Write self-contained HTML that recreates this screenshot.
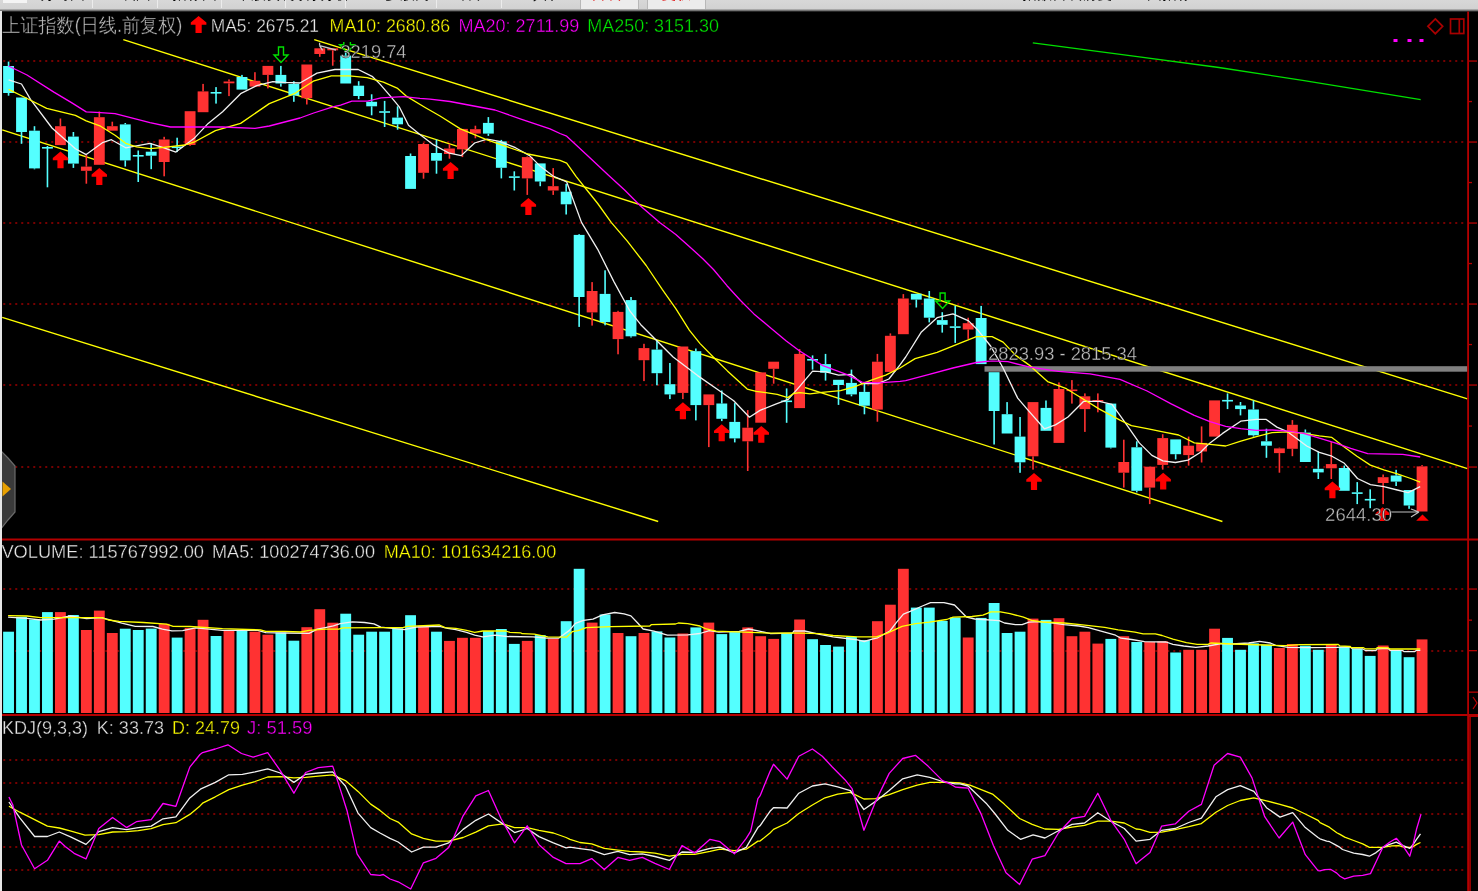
<!DOCTYPE html>
<html><head><meta charset="utf-8"><style>
html,body{margin:0;padding:0;background:#000;}
body{width:1478px;height:891px;overflow:hidden;position:relative;}
#tb{position:absolute;left:0;top:0;width:1478px;height:12px;overflow:hidden;background:linear-gradient(#d8d8d8 0,#d2d2d2 8.5px,#8a8a8a 10.2px,#000 12px);}
.tt{position:absolute;top:-14px;font-family:"Liberation Sans","WenQuanYi Zen Hei","Noto Sans CJK SC",sans-serif;font-size:15px;line-height:16px;color:#000;font-weight:bold;white-space:pre;}
.tx{position:absolute;top:0;width:1px;height:8px;background:#ececec;}
.bt{position:absolute;top:0;width:57px;height:9px;background:#ececec;border-left:1px solid #b8b8b8;border-right:1px solid #b8b8b8;}
#lb{position:absolute;left:0;top:11px;width:2px;height:880px;background:#e6e6e6;}
.t{position:absolute;white-space:pre;font-family:"Liberation Sans",Arial,sans-serif;font-size:18px;line-height:20px;}
.cj{font-family:"Liberation Sans","WenQuanYi Zen Hei","Noto Sans CJK SC",sans-serif;}
svg{position:absolute;left:0;top:0;will-change:transform;}
</style></head><body>
<div id="tb">
<div class="tx" style="left:3px;width:24px;background:#f4f4f4;height:3px;top:0;"></div>
<span class="tt" style="left:40px;">分时图</span>
<span class="tt" style="left:110px;">K线图</span>
<span class="tt" style="left:172px;">指标图</span>
<span class="tt" style="left:236px;">个股资料</span>
<span class="tt" style="left:290px;">财务分析</span>
<span class="tt" style="left:385px;">多股同</span>
<span class="tt" style="left:450px;">画线</span>
<span class="tt" style="left:518px;">工具栏</span>
<div class="tx" style="left:92px;"></div><div class="tx" style="left:157px;"></div><div class="tx" style="left:221px;"></div><div class="tx" style="left:285px;"></div><div class="tx" style="left:345px;"></div><div class="tx" style="left:436px;"></div><div class="tx" style="left:501px;"></div>
<div class="bt" style="left:580px;"><span class="tt" style="left:10px;color:#e00000;">日线</span></div>
<div class="bt" style="left:647px;"><span class="tt" style="left:13px;color:#e00000;">复权</span></div>
<span class="tt" style="left:992px;">上证指数日线前复</span>
<span class="tt" style="left:1132px;">主图指标</span>
</div>
<svg width="1478" height="891" viewBox="0 0 1478 891">
<path d="M3.25,60h2v2h-2zM9.25,60h2v2h-2zM15.25,60h2v2h-2zM21.25,60h2v2h-2zM27.25,60h2v2h-2zM33.25,60h2v2h-2zM39.25,60h2v2h-2zM45.25,60h2v2h-2zM51.25,60h2v2h-2zM57.25,60h2v2h-2zM63.25,60h2v2h-2zM69.25,60h2v2h-2zM75.25,60h2v2h-2zM81.25,60h2v2h-2zM87.25,60h2v2h-2zM93.25,60h2v2h-2zM99.25,60h2v2h-2zM105.25,60h2v2h-2zM111.25,60h2v2h-2zM117.25,60h2v2h-2zM123.25,60h2v2h-2zM129.25,60h2v2h-2zM135.25,60h2v2h-2zM141.25,60h2v2h-2zM147.25,60h2v2h-2zM153.25,60h2v2h-2zM159.25,60h2v2h-2zM165.25,60h2v2h-2zM171.25,60h2v2h-2zM177.25,60h2v2h-2zM183.25,60h2v2h-2zM189.25,60h2v2h-2zM195.25,60h2v2h-2zM201.25,60h2v2h-2zM207.25,60h2v2h-2zM213.25,60h2v2h-2zM219.25,60h2v2h-2zM225.25,60h2v2h-2zM231.25,60h2v2h-2zM237.25,60h2v2h-2zM243.25,60h2v2h-2zM249.25,60h2v2h-2zM255.25,60h2v2h-2zM261.25,60h2v2h-2zM267.25,60h2v2h-2zM273.25,60h2v2h-2zM279.25,60h2v2h-2zM285.25,60h2v2h-2zM291.25,60h2v2h-2zM297.25,60h2v2h-2zM303.25,60h2v2h-2zM309.25,60h2v2h-2zM315.25,60h2v2h-2zM321.25,60h2v2h-2zM327.25,60h2v2h-2zM333.25,60h2v2h-2zM339.25,60h2v2h-2zM345.25,60h2v2h-2zM351.25,60h2v2h-2zM357.25,60h2v2h-2zM363.25,60h2v2h-2zM369.25,60h2v2h-2zM375.25,60h2v2h-2zM381.25,60h2v2h-2zM387.25,60h2v2h-2zM393.25,60h2v2h-2zM399.25,60h2v2h-2zM405.25,60h2v2h-2zM411.25,60h2v2h-2zM417.25,60h2v2h-2zM423.25,60h2v2h-2zM429.25,60h2v2h-2zM435.25,60h2v2h-2zM441.25,60h2v2h-2zM447.25,60h2v2h-2zM453.25,60h2v2h-2zM459.25,60h2v2h-2zM465.25,60h2v2h-2zM471.25,60h2v2h-2zM477.25,60h2v2h-2zM483.25,60h2v2h-2zM489.25,60h2v2h-2zM495.25,60h2v2h-2zM501.25,60h2v2h-2zM507.25,60h2v2h-2zM513.25,60h2v2h-2zM519.25,60h2v2h-2zM525.25,60h2v2h-2zM531.25,60h2v2h-2zM537.25,60h2v2h-2zM543.25,60h2v2h-2zM549.25,60h2v2h-2zM555.25,60h2v2h-2zM561.25,60h2v2h-2zM567.25,60h2v2h-2zM573.25,60h2v2h-2zM579.25,60h2v2h-2zM585.25,60h2v2h-2zM591.25,60h2v2h-2zM597.25,60h2v2h-2zM603.25,60h2v2h-2zM609.25,60h2v2h-2zM615.25,60h2v2h-2zM621.25,60h2v2h-2zM627.25,60h2v2h-2zM633.25,60h2v2h-2zM639.25,60h2v2h-2zM645.25,60h2v2h-2zM651.25,60h2v2h-2zM657.25,60h2v2h-2zM663.25,60h2v2h-2zM669.25,60h2v2h-2zM675.25,60h2v2h-2zM681.25,60h2v2h-2zM687.25,60h2v2h-2zM693.25,60h2v2h-2zM699.25,60h2v2h-2zM705.25,60h2v2h-2zM711.25,60h2v2h-2zM717.25,60h2v2h-2zM723.25,60h2v2h-2zM729.25,60h2v2h-2zM735.25,60h2v2h-2zM741.25,60h2v2h-2zM747.25,60h2v2h-2zM753.25,60h2v2h-2zM759.25,60h2v2h-2zM765.25,60h2v2h-2zM771.25,60h2v2h-2zM777.25,60h2v2h-2zM783.25,60h2v2h-2zM789.25,60h2v2h-2zM795.25,60h2v2h-2zM801.25,60h2v2h-2zM807.25,60h2v2h-2zM813.25,60h2v2h-2zM819.25,60h2v2h-2zM825.25,60h2v2h-2zM831.25,60h2v2h-2zM837.25,60h2v2h-2zM843.25,60h2v2h-2zM849.25,60h2v2h-2zM855.25,60h2v2h-2zM861.25,60h2v2h-2zM867.25,60h2v2h-2zM873.25,60h2v2h-2zM879.25,60h2v2h-2zM885.25,60h2v2h-2zM891.25,60h2v2h-2zM897.25,60h2v2h-2zM903.25,60h2v2h-2zM909.25,60h2v2h-2zM915.25,60h2v2h-2zM921.25,60h2v2h-2zM927.25,60h2v2h-2zM933.25,60h2v2h-2zM939.25,60h2v2h-2zM945.25,60h2v2h-2zM951.25,60h2v2h-2zM957.25,60h2v2h-2zM963.25,60h2v2h-2zM969.25,60h2v2h-2zM975.25,60h2v2h-2zM981.25,60h2v2h-2zM987.25,60h2v2h-2zM993.25,60h2v2h-2zM999.25,60h2v2h-2zM1005.25,60h2v2h-2zM1011.25,60h2v2h-2zM1017.25,60h2v2h-2zM1023.25,60h2v2h-2zM1029.25,60h2v2h-2zM1035.25,60h2v2h-2zM1041.25,60h2v2h-2zM1047.25,60h2v2h-2zM1053.25,60h2v2h-2zM1059.25,60h2v2h-2zM1065.25,60h2v2h-2zM1071.25,60h2v2h-2zM1077.25,60h2v2h-2zM1083.25,60h2v2h-2zM1089.25,60h2v2h-2zM1095.25,60h2v2h-2zM1101.25,60h2v2h-2zM1107.25,60h2v2h-2zM1113.25,60h2v2h-2zM1119.25,60h2v2h-2zM1125.25,60h2v2h-2zM1131.25,60h2v2h-2zM1137.25,60h2v2h-2zM1143.25,60h2v2h-2zM1149.25,60h2v2h-2zM1155.25,60h2v2h-2zM1161.25,60h2v2h-2zM1167.25,60h2v2h-2zM1173.25,60h2v2h-2zM1179.25,60h2v2h-2zM1185.25,60h2v2h-2zM1191.25,60h2v2h-2zM1197.25,60h2v2h-2zM1203.25,60h2v2h-2zM1209.25,60h2v2h-2zM1215.25,60h2v2h-2zM1221.25,60h2v2h-2zM1227.25,60h2v2h-2zM1233.25,60h2v2h-2zM1239.25,60h2v2h-2zM1245.25,60h2v2h-2zM1251.25,60h2v2h-2zM1257.25,60h2v2h-2zM1263.25,60h2v2h-2zM1269.25,60h2v2h-2zM1275.25,60h2v2h-2zM1281.25,60h2v2h-2zM1287.25,60h2v2h-2zM1293.25,60h2v2h-2zM1299.25,60h2v2h-2zM1305.25,60h2v2h-2zM1311.25,60h2v2h-2zM1317.25,60h2v2h-2zM1323.25,60h2v2h-2zM1329.25,60h2v2h-2zM1335.25,60h2v2h-2zM1341.25,60h2v2h-2zM1347.25,60h2v2h-2zM1353.25,60h2v2h-2zM1359.25,60h2v2h-2zM1365.25,60h2v2h-2zM1371.25,60h2v2h-2zM1377.25,60h2v2h-2zM1383.25,60h2v2h-2zM1389.25,60h2v2h-2zM1395.25,60h2v2h-2zM1401.25,60h2v2h-2zM1407.25,60h2v2h-2zM1413.25,60h2v2h-2zM1419.25,60h2v2h-2zM1425.25,60h2v2h-2zM1431.25,60h2v2h-2zM1437.25,60h2v2h-2zM1443.25,60h2v2h-2zM1449.25,60h2v2h-2zM1455.25,60h2v2h-2zM1461.25,60h2v2h-2z" fill="#760000"/>
<path d="M3.25,141h2v2h-2zM9.25,141h2v2h-2zM15.25,141h2v2h-2zM21.25,141h2v2h-2zM27.25,141h2v2h-2zM33.25,141h2v2h-2zM39.25,141h2v2h-2zM45.25,141h2v2h-2zM51.25,141h2v2h-2zM57.25,141h2v2h-2zM63.25,141h2v2h-2zM69.25,141h2v2h-2zM75.25,141h2v2h-2zM81.25,141h2v2h-2zM87.25,141h2v2h-2zM93.25,141h2v2h-2zM99.25,141h2v2h-2zM105.25,141h2v2h-2zM111.25,141h2v2h-2zM117.25,141h2v2h-2zM123.25,141h2v2h-2zM129.25,141h2v2h-2zM135.25,141h2v2h-2zM141.25,141h2v2h-2zM147.25,141h2v2h-2zM153.25,141h2v2h-2zM159.25,141h2v2h-2zM165.25,141h2v2h-2zM171.25,141h2v2h-2zM177.25,141h2v2h-2zM183.25,141h2v2h-2zM189.25,141h2v2h-2zM195.25,141h2v2h-2zM201.25,141h2v2h-2zM207.25,141h2v2h-2zM213.25,141h2v2h-2zM219.25,141h2v2h-2zM225.25,141h2v2h-2zM231.25,141h2v2h-2zM237.25,141h2v2h-2zM243.25,141h2v2h-2zM249.25,141h2v2h-2zM255.25,141h2v2h-2zM261.25,141h2v2h-2zM267.25,141h2v2h-2zM273.25,141h2v2h-2zM279.25,141h2v2h-2zM285.25,141h2v2h-2zM291.25,141h2v2h-2zM297.25,141h2v2h-2zM303.25,141h2v2h-2zM309.25,141h2v2h-2zM315.25,141h2v2h-2zM321.25,141h2v2h-2zM327.25,141h2v2h-2zM333.25,141h2v2h-2zM339.25,141h2v2h-2zM345.25,141h2v2h-2zM351.25,141h2v2h-2zM357.25,141h2v2h-2zM363.25,141h2v2h-2zM369.25,141h2v2h-2zM375.25,141h2v2h-2zM381.25,141h2v2h-2zM387.25,141h2v2h-2zM393.25,141h2v2h-2zM399.25,141h2v2h-2zM405.25,141h2v2h-2zM411.25,141h2v2h-2zM417.25,141h2v2h-2zM423.25,141h2v2h-2zM429.25,141h2v2h-2zM435.25,141h2v2h-2zM441.25,141h2v2h-2zM447.25,141h2v2h-2zM453.25,141h2v2h-2zM459.25,141h2v2h-2zM465.25,141h2v2h-2zM471.25,141h2v2h-2zM477.25,141h2v2h-2zM483.25,141h2v2h-2zM489.25,141h2v2h-2zM495.25,141h2v2h-2zM501.25,141h2v2h-2zM507.25,141h2v2h-2zM513.25,141h2v2h-2zM519.25,141h2v2h-2zM525.25,141h2v2h-2zM531.25,141h2v2h-2zM537.25,141h2v2h-2zM543.25,141h2v2h-2zM549.25,141h2v2h-2zM555.25,141h2v2h-2zM561.25,141h2v2h-2zM567.25,141h2v2h-2zM573.25,141h2v2h-2zM579.25,141h2v2h-2zM585.25,141h2v2h-2zM591.25,141h2v2h-2zM597.25,141h2v2h-2zM603.25,141h2v2h-2zM609.25,141h2v2h-2zM615.25,141h2v2h-2zM621.25,141h2v2h-2zM627.25,141h2v2h-2zM633.25,141h2v2h-2zM639.25,141h2v2h-2zM645.25,141h2v2h-2zM651.25,141h2v2h-2zM657.25,141h2v2h-2zM663.25,141h2v2h-2zM669.25,141h2v2h-2zM675.25,141h2v2h-2zM681.25,141h2v2h-2zM687.25,141h2v2h-2zM693.25,141h2v2h-2zM699.25,141h2v2h-2zM705.25,141h2v2h-2zM711.25,141h2v2h-2zM717.25,141h2v2h-2zM723.25,141h2v2h-2zM729.25,141h2v2h-2zM735.25,141h2v2h-2zM741.25,141h2v2h-2zM747.25,141h2v2h-2zM753.25,141h2v2h-2zM759.25,141h2v2h-2zM765.25,141h2v2h-2zM771.25,141h2v2h-2zM777.25,141h2v2h-2zM783.25,141h2v2h-2zM789.25,141h2v2h-2zM795.25,141h2v2h-2zM801.25,141h2v2h-2zM807.25,141h2v2h-2zM813.25,141h2v2h-2zM819.25,141h2v2h-2zM825.25,141h2v2h-2zM831.25,141h2v2h-2zM837.25,141h2v2h-2zM843.25,141h2v2h-2zM849.25,141h2v2h-2zM855.25,141h2v2h-2zM861.25,141h2v2h-2zM867.25,141h2v2h-2zM873.25,141h2v2h-2zM879.25,141h2v2h-2zM885.25,141h2v2h-2zM891.25,141h2v2h-2zM897.25,141h2v2h-2zM903.25,141h2v2h-2zM909.25,141h2v2h-2zM915.25,141h2v2h-2zM921.25,141h2v2h-2zM927.25,141h2v2h-2zM933.25,141h2v2h-2zM939.25,141h2v2h-2zM945.25,141h2v2h-2zM951.25,141h2v2h-2zM957.25,141h2v2h-2zM963.25,141h2v2h-2zM969.25,141h2v2h-2zM975.25,141h2v2h-2zM981.25,141h2v2h-2zM987.25,141h2v2h-2zM993.25,141h2v2h-2zM999.25,141h2v2h-2zM1005.25,141h2v2h-2zM1011.25,141h2v2h-2zM1017.25,141h2v2h-2zM1023.25,141h2v2h-2zM1029.25,141h2v2h-2zM1035.25,141h2v2h-2zM1041.25,141h2v2h-2zM1047.25,141h2v2h-2zM1053.25,141h2v2h-2zM1059.25,141h2v2h-2zM1065.25,141h2v2h-2zM1071.25,141h2v2h-2zM1077.25,141h2v2h-2zM1083.25,141h2v2h-2zM1089.25,141h2v2h-2zM1095.25,141h2v2h-2zM1101.25,141h2v2h-2zM1107.25,141h2v2h-2zM1113.25,141h2v2h-2zM1119.25,141h2v2h-2zM1125.25,141h2v2h-2zM1131.25,141h2v2h-2zM1137.25,141h2v2h-2zM1143.25,141h2v2h-2zM1149.25,141h2v2h-2zM1155.25,141h2v2h-2zM1161.25,141h2v2h-2zM1167.25,141h2v2h-2zM1173.25,141h2v2h-2zM1179.25,141h2v2h-2zM1185.25,141h2v2h-2zM1191.25,141h2v2h-2zM1197.25,141h2v2h-2zM1203.25,141h2v2h-2zM1209.25,141h2v2h-2zM1215.25,141h2v2h-2zM1221.25,141h2v2h-2zM1227.25,141h2v2h-2zM1233.25,141h2v2h-2zM1239.25,141h2v2h-2zM1245.25,141h2v2h-2zM1251.25,141h2v2h-2zM1257.25,141h2v2h-2zM1263.25,141h2v2h-2zM1269.25,141h2v2h-2zM1275.25,141h2v2h-2zM1281.25,141h2v2h-2zM1287.25,141h2v2h-2zM1293.25,141h2v2h-2zM1299.25,141h2v2h-2zM1305.25,141h2v2h-2zM1311.25,141h2v2h-2zM1317.25,141h2v2h-2zM1323.25,141h2v2h-2zM1329.25,141h2v2h-2zM1335.25,141h2v2h-2zM1341.25,141h2v2h-2zM1347.25,141h2v2h-2zM1353.25,141h2v2h-2zM1359.25,141h2v2h-2zM1365.25,141h2v2h-2zM1371.25,141h2v2h-2zM1377.25,141h2v2h-2zM1383.25,141h2v2h-2zM1389.25,141h2v2h-2zM1395.25,141h2v2h-2zM1401.25,141h2v2h-2zM1407.25,141h2v2h-2zM1413.25,141h2v2h-2zM1419.25,141h2v2h-2zM1425.25,141h2v2h-2zM1431.25,141h2v2h-2zM1437.25,141h2v2h-2zM1443.25,141h2v2h-2zM1449.25,141h2v2h-2zM1455.25,141h2v2h-2zM1461.25,141h2v2h-2z" fill="#760000"/>
<path d="M3.25,222h2v2h-2zM9.25,222h2v2h-2zM15.25,222h2v2h-2zM21.25,222h2v2h-2zM27.25,222h2v2h-2zM33.25,222h2v2h-2zM39.25,222h2v2h-2zM45.25,222h2v2h-2zM51.25,222h2v2h-2zM57.25,222h2v2h-2zM63.25,222h2v2h-2zM69.25,222h2v2h-2zM75.25,222h2v2h-2zM81.25,222h2v2h-2zM87.25,222h2v2h-2zM93.25,222h2v2h-2zM99.25,222h2v2h-2zM105.25,222h2v2h-2zM111.25,222h2v2h-2zM117.25,222h2v2h-2zM123.25,222h2v2h-2zM129.25,222h2v2h-2zM135.25,222h2v2h-2zM141.25,222h2v2h-2zM147.25,222h2v2h-2zM153.25,222h2v2h-2zM159.25,222h2v2h-2zM165.25,222h2v2h-2zM171.25,222h2v2h-2zM177.25,222h2v2h-2zM183.25,222h2v2h-2zM189.25,222h2v2h-2zM195.25,222h2v2h-2zM201.25,222h2v2h-2zM207.25,222h2v2h-2zM213.25,222h2v2h-2zM219.25,222h2v2h-2zM225.25,222h2v2h-2zM231.25,222h2v2h-2zM237.25,222h2v2h-2zM243.25,222h2v2h-2zM249.25,222h2v2h-2zM255.25,222h2v2h-2zM261.25,222h2v2h-2zM267.25,222h2v2h-2zM273.25,222h2v2h-2zM279.25,222h2v2h-2zM285.25,222h2v2h-2zM291.25,222h2v2h-2zM297.25,222h2v2h-2zM303.25,222h2v2h-2zM309.25,222h2v2h-2zM315.25,222h2v2h-2zM321.25,222h2v2h-2zM327.25,222h2v2h-2zM333.25,222h2v2h-2zM339.25,222h2v2h-2zM345.25,222h2v2h-2zM351.25,222h2v2h-2zM357.25,222h2v2h-2zM363.25,222h2v2h-2zM369.25,222h2v2h-2zM375.25,222h2v2h-2zM381.25,222h2v2h-2zM387.25,222h2v2h-2zM393.25,222h2v2h-2zM399.25,222h2v2h-2zM405.25,222h2v2h-2zM411.25,222h2v2h-2zM417.25,222h2v2h-2zM423.25,222h2v2h-2zM429.25,222h2v2h-2zM435.25,222h2v2h-2zM441.25,222h2v2h-2zM447.25,222h2v2h-2zM453.25,222h2v2h-2zM459.25,222h2v2h-2zM465.25,222h2v2h-2zM471.25,222h2v2h-2zM477.25,222h2v2h-2zM483.25,222h2v2h-2zM489.25,222h2v2h-2zM495.25,222h2v2h-2zM501.25,222h2v2h-2zM507.25,222h2v2h-2zM513.25,222h2v2h-2zM519.25,222h2v2h-2zM525.25,222h2v2h-2zM531.25,222h2v2h-2zM537.25,222h2v2h-2zM543.25,222h2v2h-2zM549.25,222h2v2h-2zM555.25,222h2v2h-2zM561.25,222h2v2h-2zM567.25,222h2v2h-2zM573.25,222h2v2h-2zM579.25,222h2v2h-2zM585.25,222h2v2h-2zM591.25,222h2v2h-2zM597.25,222h2v2h-2zM603.25,222h2v2h-2zM609.25,222h2v2h-2zM615.25,222h2v2h-2zM621.25,222h2v2h-2zM627.25,222h2v2h-2zM633.25,222h2v2h-2zM639.25,222h2v2h-2zM645.25,222h2v2h-2zM651.25,222h2v2h-2zM657.25,222h2v2h-2zM663.25,222h2v2h-2zM669.25,222h2v2h-2zM675.25,222h2v2h-2zM681.25,222h2v2h-2zM687.25,222h2v2h-2zM693.25,222h2v2h-2zM699.25,222h2v2h-2zM705.25,222h2v2h-2zM711.25,222h2v2h-2zM717.25,222h2v2h-2zM723.25,222h2v2h-2zM729.25,222h2v2h-2zM735.25,222h2v2h-2zM741.25,222h2v2h-2zM747.25,222h2v2h-2zM753.25,222h2v2h-2zM759.25,222h2v2h-2zM765.25,222h2v2h-2zM771.25,222h2v2h-2zM777.25,222h2v2h-2zM783.25,222h2v2h-2zM789.25,222h2v2h-2zM795.25,222h2v2h-2zM801.25,222h2v2h-2zM807.25,222h2v2h-2zM813.25,222h2v2h-2zM819.25,222h2v2h-2zM825.25,222h2v2h-2zM831.25,222h2v2h-2zM837.25,222h2v2h-2zM843.25,222h2v2h-2zM849.25,222h2v2h-2zM855.25,222h2v2h-2zM861.25,222h2v2h-2zM867.25,222h2v2h-2zM873.25,222h2v2h-2zM879.25,222h2v2h-2zM885.25,222h2v2h-2zM891.25,222h2v2h-2zM897.25,222h2v2h-2zM903.25,222h2v2h-2zM909.25,222h2v2h-2zM915.25,222h2v2h-2zM921.25,222h2v2h-2zM927.25,222h2v2h-2zM933.25,222h2v2h-2zM939.25,222h2v2h-2zM945.25,222h2v2h-2zM951.25,222h2v2h-2zM957.25,222h2v2h-2zM963.25,222h2v2h-2zM969.25,222h2v2h-2zM975.25,222h2v2h-2zM981.25,222h2v2h-2zM987.25,222h2v2h-2zM993.25,222h2v2h-2zM999.25,222h2v2h-2zM1005.25,222h2v2h-2zM1011.25,222h2v2h-2zM1017.25,222h2v2h-2zM1023.25,222h2v2h-2zM1029.25,222h2v2h-2zM1035.25,222h2v2h-2zM1041.25,222h2v2h-2zM1047.25,222h2v2h-2zM1053.25,222h2v2h-2zM1059.25,222h2v2h-2zM1065.25,222h2v2h-2zM1071.25,222h2v2h-2zM1077.25,222h2v2h-2zM1083.25,222h2v2h-2zM1089.25,222h2v2h-2zM1095.25,222h2v2h-2zM1101.25,222h2v2h-2zM1107.25,222h2v2h-2zM1113.25,222h2v2h-2zM1119.25,222h2v2h-2zM1125.25,222h2v2h-2zM1131.25,222h2v2h-2zM1137.25,222h2v2h-2zM1143.25,222h2v2h-2zM1149.25,222h2v2h-2zM1155.25,222h2v2h-2zM1161.25,222h2v2h-2zM1167.25,222h2v2h-2zM1173.25,222h2v2h-2zM1179.25,222h2v2h-2zM1185.25,222h2v2h-2zM1191.25,222h2v2h-2zM1197.25,222h2v2h-2zM1203.25,222h2v2h-2zM1209.25,222h2v2h-2zM1215.25,222h2v2h-2zM1221.25,222h2v2h-2zM1227.25,222h2v2h-2zM1233.25,222h2v2h-2zM1239.25,222h2v2h-2zM1245.25,222h2v2h-2zM1251.25,222h2v2h-2zM1257.25,222h2v2h-2zM1263.25,222h2v2h-2zM1269.25,222h2v2h-2zM1275.25,222h2v2h-2zM1281.25,222h2v2h-2zM1287.25,222h2v2h-2zM1293.25,222h2v2h-2zM1299.25,222h2v2h-2zM1305.25,222h2v2h-2zM1311.25,222h2v2h-2zM1317.25,222h2v2h-2zM1323.25,222h2v2h-2zM1329.25,222h2v2h-2zM1335.25,222h2v2h-2zM1341.25,222h2v2h-2zM1347.25,222h2v2h-2zM1353.25,222h2v2h-2zM1359.25,222h2v2h-2zM1365.25,222h2v2h-2zM1371.25,222h2v2h-2zM1377.25,222h2v2h-2zM1383.25,222h2v2h-2zM1389.25,222h2v2h-2zM1395.25,222h2v2h-2zM1401.25,222h2v2h-2zM1407.25,222h2v2h-2zM1413.25,222h2v2h-2zM1419.25,222h2v2h-2zM1425.25,222h2v2h-2zM1431.25,222h2v2h-2zM1437.25,222h2v2h-2zM1443.25,222h2v2h-2zM1449.25,222h2v2h-2zM1455.25,222h2v2h-2zM1461.25,222h2v2h-2z" fill="#760000"/>
<path d="M3.25,303h2v2h-2zM9.25,303h2v2h-2zM15.25,303h2v2h-2zM21.25,303h2v2h-2zM27.25,303h2v2h-2zM33.25,303h2v2h-2zM39.25,303h2v2h-2zM45.25,303h2v2h-2zM51.25,303h2v2h-2zM57.25,303h2v2h-2zM63.25,303h2v2h-2zM69.25,303h2v2h-2zM75.25,303h2v2h-2zM81.25,303h2v2h-2zM87.25,303h2v2h-2zM93.25,303h2v2h-2zM99.25,303h2v2h-2zM105.25,303h2v2h-2zM111.25,303h2v2h-2zM117.25,303h2v2h-2zM123.25,303h2v2h-2zM129.25,303h2v2h-2zM135.25,303h2v2h-2zM141.25,303h2v2h-2zM147.25,303h2v2h-2zM153.25,303h2v2h-2zM159.25,303h2v2h-2zM165.25,303h2v2h-2zM171.25,303h2v2h-2zM177.25,303h2v2h-2zM183.25,303h2v2h-2zM189.25,303h2v2h-2zM195.25,303h2v2h-2zM201.25,303h2v2h-2zM207.25,303h2v2h-2zM213.25,303h2v2h-2zM219.25,303h2v2h-2zM225.25,303h2v2h-2zM231.25,303h2v2h-2zM237.25,303h2v2h-2zM243.25,303h2v2h-2zM249.25,303h2v2h-2zM255.25,303h2v2h-2zM261.25,303h2v2h-2zM267.25,303h2v2h-2zM273.25,303h2v2h-2zM279.25,303h2v2h-2zM285.25,303h2v2h-2zM291.25,303h2v2h-2zM297.25,303h2v2h-2zM303.25,303h2v2h-2zM309.25,303h2v2h-2zM315.25,303h2v2h-2zM321.25,303h2v2h-2zM327.25,303h2v2h-2zM333.25,303h2v2h-2zM339.25,303h2v2h-2zM345.25,303h2v2h-2zM351.25,303h2v2h-2zM357.25,303h2v2h-2zM363.25,303h2v2h-2zM369.25,303h2v2h-2zM375.25,303h2v2h-2zM381.25,303h2v2h-2zM387.25,303h2v2h-2zM393.25,303h2v2h-2zM399.25,303h2v2h-2zM405.25,303h2v2h-2zM411.25,303h2v2h-2zM417.25,303h2v2h-2zM423.25,303h2v2h-2zM429.25,303h2v2h-2zM435.25,303h2v2h-2zM441.25,303h2v2h-2zM447.25,303h2v2h-2zM453.25,303h2v2h-2zM459.25,303h2v2h-2zM465.25,303h2v2h-2zM471.25,303h2v2h-2zM477.25,303h2v2h-2zM483.25,303h2v2h-2zM489.25,303h2v2h-2zM495.25,303h2v2h-2zM501.25,303h2v2h-2zM507.25,303h2v2h-2zM513.25,303h2v2h-2zM519.25,303h2v2h-2zM525.25,303h2v2h-2zM531.25,303h2v2h-2zM537.25,303h2v2h-2zM543.25,303h2v2h-2zM549.25,303h2v2h-2zM555.25,303h2v2h-2zM561.25,303h2v2h-2zM567.25,303h2v2h-2zM573.25,303h2v2h-2zM579.25,303h2v2h-2zM585.25,303h2v2h-2zM591.25,303h2v2h-2zM597.25,303h2v2h-2zM603.25,303h2v2h-2zM609.25,303h2v2h-2zM615.25,303h2v2h-2zM621.25,303h2v2h-2zM627.25,303h2v2h-2zM633.25,303h2v2h-2zM639.25,303h2v2h-2zM645.25,303h2v2h-2zM651.25,303h2v2h-2zM657.25,303h2v2h-2zM663.25,303h2v2h-2zM669.25,303h2v2h-2zM675.25,303h2v2h-2zM681.25,303h2v2h-2zM687.25,303h2v2h-2zM693.25,303h2v2h-2zM699.25,303h2v2h-2zM705.25,303h2v2h-2zM711.25,303h2v2h-2zM717.25,303h2v2h-2zM723.25,303h2v2h-2zM729.25,303h2v2h-2zM735.25,303h2v2h-2zM741.25,303h2v2h-2zM747.25,303h2v2h-2zM753.25,303h2v2h-2zM759.25,303h2v2h-2zM765.25,303h2v2h-2zM771.25,303h2v2h-2zM777.25,303h2v2h-2zM783.25,303h2v2h-2zM789.25,303h2v2h-2zM795.25,303h2v2h-2zM801.25,303h2v2h-2zM807.25,303h2v2h-2zM813.25,303h2v2h-2zM819.25,303h2v2h-2zM825.25,303h2v2h-2zM831.25,303h2v2h-2zM837.25,303h2v2h-2zM843.25,303h2v2h-2zM849.25,303h2v2h-2zM855.25,303h2v2h-2zM861.25,303h2v2h-2zM867.25,303h2v2h-2zM873.25,303h2v2h-2zM879.25,303h2v2h-2zM885.25,303h2v2h-2zM891.25,303h2v2h-2zM897.25,303h2v2h-2zM903.25,303h2v2h-2zM909.25,303h2v2h-2zM915.25,303h2v2h-2zM921.25,303h2v2h-2zM927.25,303h2v2h-2zM933.25,303h2v2h-2zM939.25,303h2v2h-2zM945.25,303h2v2h-2zM951.25,303h2v2h-2zM957.25,303h2v2h-2zM963.25,303h2v2h-2zM969.25,303h2v2h-2zM975.25,303h2v2h-2zM981.25,303h2v2h-2zM987.25,303h2v2h-2zM993.25,303h2v2h-2zM999.25,303h2v2h-2zM1005.25,303h2v2h-2zM1011.25,303h2v2h-2zM1017.25,303h2v2h-2zM1023.25,303h2v2h-2zM1029.25,303h2v2h-2zM1035.25,303h2v2h-2zM1041.25,303h2v2h-2zM1047.25,303h2v2h-2zM1053.25,303h2v2h-2zM1059.25,303h2v2h-2zM1065.25,303h2v2h-2zM1071.25,303h2v2h-2zM1077.25,303h2v2h-2zM1083.25,303h2v2h-2zM1089.25,303h2v2h-2zM1095.25,303h2v2h-2zM1101.25,303h2v2h-2zM1107.25,303h2v2h-2zM1113.25,303h2v2h-2zM1119.25,303h2v2h-2zM1125.25,303h2v2h-2zM1131.25,303h2v2h-2zM1137.25,303h2v2h-2zM1143.25,303h2v2h-2zM1149.25,303h2v2h-2zM1155.25,303h2v2h-2zM1161.25,303h2v2h-2zM1167.25,303h2v2h-2zM1173.25,303h2v2h-2zM1179.25,303h2v2h-2zM1185.25,303h2v2h-2zM1191.25,303h2v2h-2zM1197.25,303h2v2h-2zM1203.25,303h2v2h-2zM1209.25,303h2v2h-2zM1215.25,303h2v2h-2zM1221.25,303h2v2h-2zM1227.25,303h2v2h-2zM1233.25,303h2v2h-2zM1239.25,303h2v2h-2zM1245.25,303h2v2h-2zM1251.25,303h2v2h-2zM1257.25,303h2v2h-2zM1263.25,303h2v2h-2zM1269.25,303h2v2h-2zM1275.25,303h2v2h-2zM1281.25,303h2v2h-2zM1287.25,303h2v2h-2zM1293.25,303h2v2h-2zM1299.25,303h2v2h-2zM1305.25,303h2v2h-2zM1311.25,303h2v2h-2zM1317.25,303h2v2h-2zM1323.25,303h2v2h-2zM1329.25,303h2v2h-2zM1335.25,303h2v2h-2zM1341.25,303h2v2h-2zM1347.25,303h2v2h-2zM1353.25,303h2v2h-2zM1359.25,303h2v2h-2zM1365.25,303h2v2h-2zM1371.25,303h2v2h-2zM1377.25,303h2v2h-2zM1383.25,303h2v2h-2zM1389.25,303h2v2h-2zM1395.25,303h2v2h-2zM1401.25,303h2v2h-2zM1407.25,303h2v2h-2zM1413.25,303h2v2h-2zM1419.25,303h2v2h-2zM1425.25,303h2v2h-2zM1431.25,303h2v2h-2zM1437.25,303h2v2h-2zM1443.25,303h2v2h-2zM1449.25,303h2v2h-2zM1455.25,303h2v2h-2zM1461.25,303h2v2h-2z" fill="#760000"/>
<path d="M3.25,384h2v2h-2zM9.25,384h2v2h-2zM15.25,384h2v2h-2zM21.25,384h2v2h-2zM27.25,384h2v2h-2zM33.25,384h2v2h-2zM39.25,384h2v2h-2zM45.25,384h2v2h-2zM51.25,384h2v2h-2zM57.25,384h2v2h-2zM63.25,384h2v2h-2zM69.25,384h2v2h-2zM75.25,384h2v2h-2zM81.25,384h2v2h-2zM87.25,384h2v2h-2zM93.25,384h2v2h-2zM99.25,384h2v2h-2zM105.25,384h2v2h-2zM111.25,384h2v2h-2zM117.25,384h2v2h-2zM123.25,384h2v2h-2zM129.25,384h2v2h-2zM135.25,384h2v2h-2zM141.25,384h2v2h-2zM147.25,384h2v2h-2zM153.25,384h2v2h-2zM159.25,384h2v2h-2zM165.25,384h2v2h-2zM171.25,384h2v2h-2zM177.25,384h2v2h-2zM183.25,384h2v2h-2zM189.25,384h2v2h-2zM195.25,384h2v2h-2zM201.25,384h2v2h-2zM207.25,384h2v2h-2zM213.25,384h2v2h-2zM219.25,384h2v2h-2zM225.25,384h2v2h-2zM231.25,384h2v2h-2zM237.25,384h2v2h-2zM243.25,384h2v2h-2zM249.25,384h2v2h-2zM255.25,384h2v2h-2zM261.25,384h2v2h-2zM267.25,384h2v2h-2zM273.25,384h2v2h-2zM279.25,384h2v2h-2zM285.25,384h2v2h-2zM291.25,384h2v2h-2zM297.25,384h2v2h-2zM303.25,384h2v2h-2zM309.25,384h2v2h-2zM315.25,384h2v2h-2zM321.25,384h2v2h-2zM327.25,384h2v2h-2zM333.25,384h2v2h-2zM339.25,384h2v2h-2zM345.25,384h2v2h-2zM351.25,384h2v2h-2zM357.25,384h2v2h-2zM363.25,384h2v2h-2zM369.25,384h2v2h-2zM375.25,384h2v2h-2zM381.25,384h2v2h-2zM387.25,384h2v2h-2zM393.25,384h2v2h-2zM399.25,384h2v2h-2zM405.25,384h2v2h-2zM411.25,384h2v2h-2zM417.25,384h2v2h-2zM423.25,384h2v2h-2zM429.25,384h2v2h-2zM435.25,384h2v2h-2zM441.25,384h2v2h-2zM447.25,384h2v2h-2zM453.25,384h2v2h-2zM459.25,384h2v2h-2zM465.25,384h2v2h-2zM471.25,384h2v2h-2zM477.25,384h2v2h-2zM483.25,384h2v2h-2zM489.25,384h2v2h-2zM495.25,384h2v2h-2zM501.25,384h2v2h-2zM507.25,384h2v2h-2zM513.25,384h2v2h-2zM519.25,384h2v2h-2zM525.25,384h2v2h-2zM531.25,384h2v2h-2zM537.25,384h2v2h-2zM543.25,384h2v2h-2zM549.25,384h2v2h-2zM555.25,384h2v2h-2zM561.25,384h2v2h-2zM567.25,384h2v2h-2zM573.25,384h2v2h-2zM579.25,384h2v2h-2zM585.25,384h2v2h-2zM591.25,384h2v2h-2zM597.25,384h2v2h-2zM603.25,384h2v2h-2zM609.25,384h2v2h-2zM615.25,384h2v2h-2zM621.25,384h2v2h-2zM627.25,384h2v2h-2zM633.25,384h2v2h-2zM639.25,384h2v2h-2zM645.25,384h2v2h-2zM651.25,384h2v2h-2zM657.25,384h2v2h-2zM663.25,384h2v2h-2zM669.25,384h2v2h-2zM675.25,384h2v2h-2zM681.25,384h2v2h-2zM687.25,384h2v2h-2zM693.25,384h2v2h-2zM699.25,384h2v2h-2zM705.25,384h2v2h-2zM711.25,384h2v2h-2zM717.25,384h2v2h-2zM723.25,384h2v2h-2zM729.25,384h2v2h-2zM735.25,384h2v2h-2zM741.25,384h2v2h-2zM747.25,384h2v2h-2zM753.25,384h2v2h-2zM759.25,384h2v2h-2zM765.25,384h2v2h-2zM771.25,384h2v2h-2zM777.25,384h2v2h-2zM783.25,384h2v2h-2zM789.25,384h2v2h-2zM795.25,384h2v2h-2zM801.25,384h2v2h-2zM807.25,384h2v2h-2zM813.25,384h2v2h-2zM819.25,384h2v2h-2zM825.25,384h2v2h-2zM831.25,384h2v2h-2zM837.25,384h2v2h-2zM843.25,384h2v2h-2zM849.25,384h2v2h-2zM855.25,384h2v2h-2zM861.25,384h2v2h-2zM867.25,384h2v2h-2zM873.25,384h2v2h-2zM879.25,384h2v2h-2zM885.25,384h2v2h-2zM891.25,384h2v2h-2zM897.25,384h2v2h-2zM903.25,384h2v2h-2zM909.25,384h2v2h-2zM915.25,384h2v2h-2zM921.25,384h2v2h-2zM927.25,384h2v2h-2zM933.25,384h2v2h-2zM939.25,384h2v2h-2zM945.25,384h2v2h-2zM951.25,384h2v2h-2zM957.25,384h2v2h-2zM963.25,384h2v2h-2zM969.25,384h2v2h-2zM975.25,384h2v2h-2zM981.25,384h2v2h-2zM987.25,384h2v2h-2zM993.25,384h2v2h-2zM999.25,384h2v2h-2zM1005.25,384h2v2h-2zM1011.25,384h2v2h-2zM1017.25,384h2v2h-2zM1023.25,384h2v2h-2zM1029.25,384h2v2h-2zM1035.25,384h2v2h-2zM1041.25,384h2v2h-2zM1047.25,384h2v2h-2zM1053.25,384h2v2h-2zM1059.25,384h2v2h-2zM1065.25,384h2v2h-2zM1071.25,384h2v2h-2zM1077.25,384h2v2h-2zM1083.25,384h2v2h-2zM1089.25,384h2v2h-2zM1095.25,384h2v2h-2zM1101.25,384h2v2h-2zM1107.25,384h2v2h-2zM1113.25,384h2v2h-2zM1119.25,384h2v2h-2zM1125.25,384h2v2h-2zM1131.25,384h2v2h-2zM1137.25,384h2v2h-2zM1143.25,384h2v2h-2zM1149.25,384h2v2h-2zM1155.25,384h2v2h-2zM1161.25,384h2v2h-2zM1167.25,384h2v2h-2zM1173.25,384h2v2h-2zM1179.25,384h2v2h-2zM1185.25,384h2v2h-2zM1191.25,384h2v2h-2zM1197.25,384h2v2h-2zM1203.25,384h2v2h-2zM1209.25,384h2v2h-2zM1215.25,384h2v2h-2zM1221.25,384h2v2h-2zM1227.25,384h2v2h-2zM1233.25,384h2v2h-2zM1239.25,384h2v2h-2zM1245.25,384h2v2h-2zM1251.25,384h2v2h-2zM1257.25,384h2v2h-2zM1263.25,384h2v2h-2zM1269.25,384h2v2h-2zM1275.25,384h2v2h-2zM1281.25,384h2v2h-2zM1287.25,384h2v2h-2zM1293.25,384h2v2h-2zM1299.25,384h2v2h-2zM1305.25,384h2v2h-2zM1311.25,384h2v2h-2zM1317.25,384h2v2h-2zM1323.25,384h2v2h-2zM1329.25,384h2v2h-2zM1335.25,384h2v2h-2zM1341.25,384h2v2h-2zM1347.25,384h2v2h-2zM1353.25,384h2v2h-2zM1359.25,384h2v2h-2zM1365.25,384h2v2h-2zM1371.25,384h2v2h-2zM1377.25,384h2v2h-2zM1383.25,384h2v2h-2zM1389.25,384h2v2h-2zM1395.25,384h2v2h-2zM1401.25,384h2v2h-2zM1407.25,384h2v2h-2zM1413.25,384h2v2h-2zM1419.25,384h2v2h-2zM1425.25,384h2v2h-2zM1431.25,384h2v2h-2zM1437.25,384h2v2h-2zM1443.25,384h2v2h-2zM1449.25,384h2v2h-2zM1455.25,384h2v2h-2zM1461.25,384h2v2h-2z" fill="#760000"/>
<path d="M3.25,466h2v2h-2zM9.25,466h2v2h-2zM15.25,466h2v2h-2zM21.25,466h2v2h-2zM27.25,466h2v2h-2zM33.25,466h2v2h-2zM39.25,466h2v2h-2zM45.25,466h2v2h-2zM51.25,466h2v2h-2zM57.25,466h2v2h-2zM63.25,466h2v2h-2zM69.25,466h2v2h-2zM75.25,466h2v2h-2zM81.25,466h2v2h-2zM87.25,466h2v2h-2zM93.25,466h2v2h-2zM99.25,466h2v2h-2zM105.25,466h2v2h-2zM111.25,466h2v2h-2zM117.25,466h2v2h-2zM123.25,466h2v2h-2zM129.25,466h2v2h-2zM135.25,466h2v2h-2zM141.25,466h2v2h-2zM147.25,466h2v2h-2zM153.25,466h2v2h-2zM159.25,466h2v2h-2zM165.25,466h2v2h-2zM171.25,466h2v2h-2zM177.25,466h2v2h-2zM183.25,466h2v2h-2zM189.25,466h2v2h-2zM195.25,466h2v2h-2zM201.25,466h2v2h-2zM207.25,466h2v2h-2zM213.25,466h2v2h-2zM219.25,466h2v2h-2zM225.25,466h2v2h-2zM231.25,466h2v2h-2zM237.25,466h2v2h-2zM243.25,466h2v2h-2zM249.25,466h2v2h-2zM255.25,466h2v2h-2zM261.25,466h2v2h-2zM267.25,466h2v2h-2zM273.25,466h2v2h-2zM279.25,466h2v2h-2zM285.25,466h2v2h-2zM291.25,466h2v2h-2zM297.25,466h2v2h-2zM303.25,466h2v2h-2zM309.25,466h2v2h-2zM315.25,466h2v2h-2zM321.25,466h2v2h-2zM327.25,466h2v2h-2zM333.25,466h2v2h-2zM339.25,466h2v2h-2zM345.25,466h2v2h-2zM351.25,466h2v2h-2zM357.25,466h2v2h-2zM363.25,466h2v2h-2zM369.25,466h2v2h-2zM375.25,466h2v2h-2zM381.25,466h2v2h-2zM387.25,466h2v2h-2zM393.25,466h2v2h-2zM399.25,466h2v2h-2zM405.25,466h2v2h-2zM411.25,466h2v2h-2zM417.25,466h2v2h-2zM423.25,466h2v2h-2zM429.25,466h2v2h-2zM435.25,466h2v2h-2zM441.25,466h2v2h-2zM447.25,466h2v2h-2zM453.25,466h2v2h-2zM459.25,466h2v2h-2zM465.25,466h2v2h-2zM471.25,466h2v2h-2zM477.25,466h2v2h-2zM483.25,466h2v2h-2zM489.25,466h2v2h-2zM495.25,466h2v2h-2zM501.25,466h2v2h-2zM507.25,466h2v2h-2zM513.25,466h2v2h-2zM519.25,466h2v2h-2zM525.25,466h2v2h-2zM531.25,466h2v2h-2zM537.25,466h2v2h-2zM543.25,466h2v2h-2zM549.25,466h2v2h-2zM555.25,466h2v2h-2zM561.25,466h2v2h-2zM567.25,466h2v2h-2zM573.25,466h2v2h-2zM579.25,466h2v2h-2zM585.25,466h2v2h-2zM591.25,466h2v2h-2zM597.25,466h2v2h-2zM603.25,466h2v2h-2zM609.25,466h2v2h-2zM615.25,466h2v2h-2zM621.25,466h2v2h-2zM627.25,466h2v2h-2zM633.25,466h2v2h-2zM639.25,466h2v2h-2zM645.25,466h2v2h-2zM651.25,466h2v2h-2zM657.25,466h2v2h-2zM663.25,466h2v2h-2zM669.25,466h2v2h-2zM675.25,466h2v2h-2zM681.25,466h2v2h-2zM687.25,466h2v2h-2zM693.25,466h2v2h-2zM699.25,466h2v2h-2zM705.25,466h2v2h-2zM711.25,466h2v2h-2zM717.25,466h2v2h-2zM723.25,466h2v2h-2zM729.25,466h2v2h-2zM735.25,466h2v2h-2zM741.25,466h2v2h-2zM747.25,466h2v2h-2zM753.25,466h2v2h-2zM759.25,466h2v2h-2zM765.25,466h2v2h-2zM771.25,466h2v2h-2zM777.25,466h2v2h-2zM783.25,466h2v2h-2zM789.25,466h2v2h-2zM795.25,466h2v2h-2zM801.25,466h2v2h-2zM807.25,466h2v2h-2zM813.25,466h2v2h-2zM819.25,466h2v2h-2zM825.25,466h2v2h-2zM831.25,466h2v2h-2zM837.25,466h2v2h-2zM843.25,466h2v2h-2zM849.25,466h2v2h-2zM855.25,466h2v2h-2zM861.25,466h2v2h-2zM867.25,466h2v2h-2zM873.25,466h2v2h-2zM879.25,466h2v2h-2zM885.25,466h2v2h-2zM891.25,466h2v2h-2zM897.25,466h2v2h-2zM903.25,466h2v2h-2zM909.25,466h2v2h-2zM915.25,466h2v2h-2zM921.25,466h2v2h-2zM927.25,466h2v2h-2zM933.25,466h2v2h-2zM939.25,466h2v2h-2zM945.25,466h2v2h-2zM951.25,466h2v2h-2zM957.25,466h2v2h-2zM963.25,466h2v2h-2zM969.25,466h2v2h-2zM975.25,466h2v2h-2zM981.25,466h2v2h-2zM987.25,466h2v2h-2zM993.25,466h2v2h-2zM999.25,466h2v2h-2zM1005.25,466h2v2h-2zM1011.25,466h2v2h-2zM1017.25,466h2v2h-2zM1023.25,466h2v2h-2zM1029.25,466h2v2h-2zM1035.25,466h2v2h-2zM1041.25,466h2v2h-2zM1047.25,466h2v2h-2zM1053.25,466h2v2h-2zM1059.25,466h2v2h-2zM1065.25,466h2v2h-2zM1071.25,466h2v2h-2zM1077.25,466h2v2h-2zM1083.25,466h2v2h-2zM1089.25,466h2v2h-2zM1095.25,466h2v2h-2zM1101.25,466h2v2h-2zM1107.25,466h2v2h-2zM1113.25,466h2v2h-2zM1119.25,466h2v2h-2zM1125.25,466h2v2h-2zM1131.25,466h2v2h-2zM1137.25,466h2v2h-2zM1143.25,466h2v2h-2zM1149.25,466h2v2h-2zM1155.25,466h2v2h-2zM1161.25,466h2v2h-2zM1167.25,466h2v2h-2zM1173.25,466h2v2h-2zM1179.25,466h2v2h-2zM1185.25,466h2v2h-2zM1191.25,466h2v2h-2zM1197.25,466h2v2h-2zM1203.25,466h2v2h-2zM1209.25,466h2v2h-2zM1215.25,466h2v2h-2zM1221.25,466h2v2h-2zM1227.25,466h2v2h-2zM1233.25,466h2v2h-2zM1239.25,466h2v2h-2zM1245.25,466h2v2h-2zM1251.25,466h2v2h-2zM1257.25,466h2v2h-2zM1263.25,466h2v2h-2zM1269.25,466h2v2h-2zM1275.25,466h2v2h-2zM1281.25,466h2v2h-2zM1287.25,466h2v2h-2zM1293.25,466h2v2h-2zM1299.25,466h2v2h-2zM1305.25,466h2v2h-2zM1311.25,466h2v2h-2zM1317.25,466h2v2h-2zM1323.25,466h2v2h-2zM1329.25,466h2v2h-2zM1335.25,466h2v2h-2zM1341.25,466h2v2h-2zM1347.25,466h2v2h-2zM1353.25,466h2v2h-2zM1359.25,466h2v2h-2zM1365.25,466h2v2h-2zM1371.25,466h2v2h-2zM1377.25,466h2v2h-2zM1383.25,466h2v2h-2zM1389.25,466h2v2h-2zM1395.25,466h2v2h-2zM1401.25,466h2v2h-2zM1407.25,466h2v2h-2zM1413.25,466h2v2h-2zM1419.25,466h2v2h-2zM1425.25,466h2v2h-2zM1431.25,466h2v2h-2zM1437.25,466h2v2h-2zM1443.25,466h2v2h-2zM1449.25,466h2v2h-2zM1455.25,466h2v2h-2zM1461.25,466h2v2h-2z" fill="#760000"/>
<path d="M3.25,588h2v2h-2zM9.25,588h2v2h-2zM15.25,588h2v2h-2zM21.25,588h2v2h-2zM27.25,588h2v2h-2zM33.25,588h2v2h-2zM39.25,588h2v2h-2zM45.25,588h2v2h-2zM51.25,588h2v2h-2zM57.25,588h2v2h-2zM63.25,588h2v2h-2zM69.25,588h2v2h-2zM75.25,588h2v2h-2zM81.25,588h2v2h-2zM87.25,588h2v2h-2zM93.25,588h2v2h-2zM99.25,588h2v2h-2zM105.25,588h2v2h-2zM111.25,588h2v2h-2zM117.25,588h2v2h-2zM123.25,588h2v2h-2zM129.25,588h2v2h-2zM135.25,588h2v2h-2zM141.25,588h2v2h-2zM147.25,588h2v2h-2zM153.25,588h2v2h-2zM159.25,588h2v2h-2zM165.25,588h2v2h-2zM171.25,588h2v2h-2zM177.25,588h2v2h-2zM183.25,588h2v2h-2zM189.25,588h2v2h-2zM195.25,588h2v2h-2zM201.25,588h2v2h-2zM207.25,588h2v2h-2zM213.25,588h2v2h-2zM219.25,588h2v2h-2zM225.25,588h2v2h-2zM231.25,588h2v2h-2zM237.25,588h2v2h-2zM243.25,588h2v2h-2zM249.25,588h2v2h-2zM255.25,588h2v2h-2zM261.25,588h2v2h-2zM267.25,588h2v2h-2zM273.25,588h2v2h-2zM279.25,588h2v2h-2zM285.25,588h2v2h-2zM291.25,588h2v2h-2zM297.25,588h2v2h-2zM303.25,588h2v2h-2zM309.25,588h2v2h-2zM315.25,588h2v2h-2zM321.25,588h2v2h-2zM327.25,588h2v2h-2zM333.25,588h2v2h-2zM339.25,588h2v2h-2zM345.25,588h2v2h-2zM351.25,588h2v2h-2zM357.25,588h2v2h-2zM363.25,588h2v2h-2zM369.25,588h2v2h-2zM375.25,588h2v2h-2zM381.25,588h2v2h-2zM387.25,588h2v2h-2zM393.25,588h2v2h-2zM399.25,588h2v2h-2zM405.25,588h2v2h-2zM411.25,588h2v2h-2zM417.25,588h2v2h-2zM423.25,588h2v2h-2zM429.25,588h2v2h-2zM435.25,588h2v2h-2zM441.25,588h2v2h-2zM447.25,588h2v2h-2zM453.25,588h2v2h-2zM459.25,588h2v2h-2zM465.25,588h2v2h-2zM471.25,588h2v2h-2zM477.25,588h2v2h-2zM483.25,588h2v2h-2zM489.25,588h2v2h-2zM495.25,588h2v2h-2zM501.25,588h2v2h-2zM507.25,588h2v2h-2zM513.25,588h2v2h-2zM519.25,588h2v2h-2zM525.25,588h2v2h-2zM531.25,588h2v2h-2zM537.25,588h2v2h-2zM543.25,588h2v2h-2zM549.25,588h2v2h-2zM555.25,588h2v2h-2zM561.25,588h2v2h-2zM567.25,588h2v2h-2zM573.25,588h2v2h-2zM579.25,588h2v2h-2zM585.25,588h2v2h-2zM591.25,588h2v2h-2zM597.25,588h2v2h-2zM603.25,588h2v2h-2zM609.25,588h2v2h-2zM615.25,588h2v2h-2zM621.25,588h2v2h-2zM627.25,588h2v2h-2zM633.25,588h2v2h-2zM639.25,588h2v2h-2zM645.25,588h2v2h-2zM651.25,588h2v2h-2zM657.25,588h2v2h-2zM663.25,588h2v2h-2zM669.25,588h2v2h-2zM675.25,588h2v2h-2zM681.25,588h2v2h-2zM687.25,588h2v2h-2zM693.25,588h2v2h-2zM699.25,588h2v2h-2zM705.25,588h2v2h-2zM711.25,588h2v2h-2zM717.25,588h2v2h-2zM723.25,588h2v2h-2zM729.25,588h2v2h-2zM735.25,588h2v2h-2zM741.25,588h2v2h-2zM747.25,588h2v2h-2zM753.25,588h2v2h-2zM759.25,588h2v2h-2zM765.25,588h2v2h-2zM771.25,588h2v2h-2zM777.25,588h2v2h-2zM783.25,588h2v2h-2zM789.25,588h2v2h-2zM795.25,588h2v2h-2zM801.25,588h2v2h-2zM807.25,588h2v2h-2zM813.25,588h2v2h-2zM819.25,588h2v2h-2zM825.25,588h2v2h-2zM831.25,588h2v2h-2zM837.25,588h2v2h-2zM843.25,588h2v2h-2zM849.25,588h2v2h-2zM855.25,588h2v2h-2zM861.25,588h2v2h-2zM867.25,588h2v2h-2zM873.25,588h2v2h-2zM879.25,588h2v2h-2zM885.25,588h2v2h-2zM891.25,588h2v2h-2zM897.25,588h2v2h-2zM903.25,588h2v2h-2zM909.25,588h2v2h-2zM915.25,588h2v2h-2zM921.25,588h2v2h-2zM927.25,588h2v2h-2zM933.25,588h2v2h-2zM939.25,588h2v2h-2zM945.25,588h2v2h-2zM951.25,588h2v2h-2zM957.25,588h2v2h-2zM963.25,588h2v2h-2zM969.25,588h2v2h-2zM975.25,588h2v2h-2zM981.25,588h2v2h-2zM987.25,588h2v2h-2zM993.25,588h2v2h-2zM999.25,588h2v2h-2zM1005.25,588h2v2h-2zM1011.25,588h2v2h-2zM1017.25,588h2v2h-2zM1023.25,588h2v2h-2zM1029.25,588h2v2h-2zM1035.25,588h2v2h-2zM1041.25,588h2v2h-2zM1047.25,588h2v2h-2zM1053.25,588h2v2h-2zM1059.25,588h2v2h-2zM1065.25,588h2v2h-2zM1071.25,588h2v2h-2zM1077.25,588h2v2h-2zM1083.25,588h2v2h-2zM1089.25,588h2v2h-2zM1095.25,588h2v2h-2zM1101.25,588h2v2h-2zM1107.25,588h2v2h-2zM1113.25,588h2v2h-2zM1119.25,588h2v2h-2zM1125.25,588h2v2h-2zM1131.25,588h2v2h-2zM1137.25,588h2v2h-2zM1143.25,588h2v2h-2zM1149.25,588h2v2h-2zM1155.25,588h2v2h-2zM1161.25,588h2v2h-2zM1167.25,588h2v2h-2zM1173.25,588h2v2h-2zM1179.25,588h2v2h-2zM1185.25,588h2v2h-2zM1191.25,588h2v2h-2zM1197.25,588h2v2h-2zM1203.25,588h2v2h-2zM1209.25,588h2v2h-2zM1215.25,588h2v2h-2zM1221.25,588h2v2h-2zM1227.25,588h2v2h-2zM1233.25,588h2v2h-2zM1239.25,588h2v2h-2zM1245.25,588h2v2h-2zM1251.25,588h2v2h-2zM1257.25,588h2v2h-2zM1263.25,588h2v2h-2zM1269.25,588h2v2h-2zM1275.25,588h2v2h-2zM1281.25,588h2v2h-2zM1287.25,588h2v2h-2zM1293.25,588h2v2h-2zM1299.25,588h2v2h-2zM1305.25,588h2v2h-2zM1311.25,588h2v2h-2zM1317.25,588h2v2h-2zM1323.25,588h2v2h-2zM1329.25,588h2v2h-2zM1335.25,588h2v2h-2zM1341.25,588h2v2h-2zM1347.25,588h2v2h-2zM1353.25,588h2v2h-2zM1359.25,588h2v2h-2zM1365.25,588h2v2h-2zM1371.25,588h2v2h-2zM1377.25,588h2v2h-2zM1383.25,588h2v2h-2zM1389.25,588h2v2h-2zM1395.25,588h2v2h-2zM1401.25,588h2v2h-2zM1407.25,588h2v2h-2zM1413.25,588h2v2h-2zM1419.25,588h2v2h-2zM1425.25,588h2v2h-2zM1431.25,588h2v2h-2zM1437.25,588h2v2h-2zM1443.25,588h2v2h-2zM1449.25,588h2v2h-2zM1455.25,588h2v2h-2zM1461.25,588h2v2h-2z" fill="#760000"/>
<path d="M3.25,650h2v2h-2zM9.25,650h2v2h-2zM15.25,650h2v2h-2zM21.25,650h2v2h-2zM27.25,650h2v2h-2zM33.25,650h2v2h-2zM39.25,650h2v2h-2zM45.25,650h2v2h-2zM51.25,650h2v2h-2zM57.25,650h2v2h-2zM63.25,650h2v2h-2zM69.25,650h2v2h-2zM75.25,650h2v2h-2zM81.25,650h2v2h-2zM87.25,650h2v2h-2zM93.25,650h2v2h-2zM99.25,650h2v2h-2zM105.25,650h2v2h-2zM111.25,650h2v2h-2zM117.25,650h2v2h-2zM123.25,650h2v2h-2zM129.25,650h2v2h-2zM135.25,650h2v2h-2zM141.25,650h2v2h-2zM147.25,650h2v2h-2zM153.25,650h2v2h-2zM159.25,650h2v2h-2zM165.25,650h2v2h-2zM171.25,650h2v2h-2zM177.25,650h2v2h-2zM183.25,650h2v2h-2zM189.25,650h2v2h-2zM195.25,650h2v2h-2zM201.25,650h2v2h-2zM207.25,650h2v2h-2zM213.25,650h2v2h-2zM219.25,650h2v2h-2zM225.25,650h2v2h-2zM231.25,650h2v2h-2zM237.25,650h2v2h-2zM243.25,650h2v2h-2zM249.25,650h2v2h-2zM255.25,650h2v2h-2zM261.25,650h2v2h-2zM267.25,650h2v2h-2zM273.25,650h2v2h-2zM279.25,650h2v2h-2zM285.25,650h2v2h-2zM291.25,650h2v2h-2zM297.25,650h2v2h-2zM303.25,650h2v2h-2zM309.25,650h2v2h-2zM315.25,650h2v2h-2zM321.25,650h2v2h-2zM327.25,650h2v2h-2zM333.25,650h2v2h-2zM339.25,650h2v2h-2zM345.25,650h2v2h-2zM351.25,650h2v2h-2zM357.25,650h2v2h-2zM363.25,650h2v2h-2zM369.25,650h2v2h-2zM375.25,650h2v2h-2zM381.25,650h2v2h-2zM387.25,650h2v2h-2zM393.25,650h2v2h-2zM399.25,650h2v2h-2zM405.25,650h2v2h-2zM411.25,650h2v2h-2zM417.25,650h2v2h-2zM423.25,650h2v2h-2zM429.25,650h2v2h-2zM435.25,650h2v2h-2zM441.25,650h2v2h-2zM447.25,650h2v2h-2zM453.25,650h2v2h-2zM459.25,650h2v2h-2zM465.25,650h2v2h-2zM471.25,650h2v2h-2zM477.25,650h2v2h-2zM483.25,650h2v2h-2zM489.25,650h2v2h-2zM495.25,650h2v2h-2zM501.25,650h2v2h-2zM507.25,650h2v2h-2zM513.25,650h2v2h-2zM519.25,650h2v2h-2zM525.25,650h2v2h-2zM531.25,650h2v2h-2zM537.25,650h2v2h-2zM543.25,650h2v2h-2zM549.25,650h2v2h-2zM555.25,650h2v2h-2zM561.25,650h2v2h-2zM567.25,650h2v2h-2zM573.25,650h2v2h-2zM579.25,650h2v2h-2zM585.25,650h2v2h-2zM591.25,650h2v2h-2zM597.25,650h2v2h-2zM603.25,650h2v2h-2zM609.25,650h2v2h-2zM615.25,650h2v2h-2zM621.25,650h2v2h-2zM627.25,650h2v2h-2zM633.25,650h2v2h-2zM639.25,650h2v2h-2zM645.25,650h2v2h-2zM651.25,650h2v2h-2zM657.25,650h2v2h-2zM663.25,650h2v2h-2zM669.25,650h2v2h-2zM675.25,650h2v2h-2zM681.25,650h2v2h-2zM687.25,650h2v2h-2zM693.25,650h2v2h-2zM699.25,650h2v2h-2zM705.25,650h2v2h-2zM711.25,650h2v2h-2zM717.25,650h2v2h-2zM723.25,650h2v2h-2zM729.25,650h2v2h-2zM735.25,650h2v2h-2zM741.25,650h2v2h-2zM747.25,650h2v2h-2zM753.25,650h2v2h-2zM759.25,650h2v2h-2zM765.25,650h2v2h-2zM771.25,650h2v2h-2zM777.25,650h2v2h-2zM783.25,650h2v2h-2zM789.25,650h2v2h-2zM795.25,650h2v2h-2zM801.25,650h2v2h-2zM807.25,650h2v2h-2zM813.25,650h2v2h-2zM819.25,650h2v2h-2zM825.25,650h2v2h-2zM831.25,650h2v2h-2zM837.25,650h2v2h-2zM843.25,650h2v2h-2zM849.25,650h2v2h-2zM855.25,650h2v2h-2zM861.25,650h2v2h-2zM867.25,650h2v2h-2zM873.25,650h2v2h-2zM879.25,650h2v2h-2zM885.25,650h2v2h-2zM891.25,650h2v2h-2zM897.25,650h2v2h-2zM903.25,650h2v2h-2zM909.25,650h2v2h-2zM915.25,650h2v2h-2zM921.25,650h2v2h-2zM927.25,650h2v2h-2zM933.25,650h2v2h-2zM939.25,650h2v2h-2zM945.25,650h2v2h-2zM951.25,650h2v2h-2zM957.25,650h2v2h-2zM963.25,650h2v2h-2zM969.25,650h2v2h-2zM975.25,650h2v2h-2zM981.25,650h2v2h-2zM987.25,650h2v2h-2zM993.25,650h2v2h-2zM999.25,650h2v2h-2zM1005.25,650h2v2h-2zM1011.25,650h2v2h-2zM1017.25,650h2v2h-2zM1023.25,650h2v2h-2zM1029.25,650h2v2h-2zM1035.25,650h2v2h-2zM1041.25,650h2v2h-2zM1047.25,650h2v2h-2zM1053.25,650h2v2h-2zM1059.25,650h2v2h-2zM1065.25,650h2v2h-2zM1071.25,650h2v2h-2zM1077.25,650h2v2h-2zM1083.25,650h2v2h-2zM1089.25,650h2v2h-2zM1095.25,650h2v2h-2zM1101.25,650h2v2h-2zM1107.25,650h2v2h-2zM1113.25,650h2v2h-2zM1119.25,650h2v2h-2zM1125.25,650h2v2h-2zM1131.25,650h2v2h-2zM1137.25,650h2v2h-2zM1143.25,650h2v2h-2zM1149.25,650h2v2h-2zM1155.25,650h2v2h-2zM1161.25,650h2v2h-2zM1167.25,650h2v2h-2zM1173.25,650h2v2h-2zM1179.25,650h2v2h-2zM1185.25,650h2v2h-2zM1191.25,650h2v2h-2zM1197.25,650h2v2h-2zM1203.25,650h2v2h-2zM1209.25,650h2v2h-2zM1215.25,650h2v2h-2zM1221.25,650h2v2h-2zM1227.25,650h2v2h-2zM1233.25,650h2v2h-2zM1239.25,650h2v2h-2zM1245.25,650h2v2h-2zM1251.25,650h2v2h-2zM1257.25,650h2v2h-2zM1263.25,650h2v2h-2zM1269.25,650h2v2h-2zM1275.25,650h2v2h-2zM1281.25,650h2v2h-2zM1287.25,650h2v2h-2zM1293.25,650h2v2h-2zM1299.25,650h2v2h-2zM1305.25,650h2v2h-2zM1311.25,650h2v2h-2zM1317.25,650h2v2h-2zM1323.25,650h2v2h-2zM1329.25,650h2v2h-2zM1335.25,650h2v2h-2zM1341.25,650h2v2h-2zM1347.25,650h2v2h-2zM1353.25,650h2v2h-2zM1359.25,650h2v2h-2zM1365.25,650h2v2h-2zM1371.25,650h2v2h-2zM1377.25,650h2v2h-2zM1383.25,650h2v2h-2zM1389.25,650h2v2h-2zM1395.25,650h2v2h-2zM1401.25,650h2v2h-2zM1407.25,650h2v2h-2zM1413.25,650h2v2h-2zM1419.25,650h2v2h-2zM1425.25,650h2v2h-2zM1431.25,650h2v2h-2zM1437.25,650h2v2h-2zM1443.25,650h2v2h-2zM1449.25,650h2v2h-2zM1455.25,650h2v2h-2zM1461.25,650h2v2h-2z" fill="#760000"/>
<path d="M3.25,759h2v2h-2zM9.25,759h2v2h-2zM15.25,759h2v2h-2zM21.25,759h2v2h-2zM27.25,759h2v2h-2zM33.25,759h2v2h-2zM39.25,759h2v2h-2zM45.25,759h2v2h-2zM51.25,759h2v2h-2zM57.25,759h2v2h-2zM63.25,759h2v2h-2zM69.25,759h2v2h-2zM75.25,759h2v2h-2zM81.25,759h2v2h-2zM87.25,759h2v2h-2zM93.25,759h2v2h-2zM99.25,759h2v2h-2zM105.25,759h2v2h-2zM111.25,759h2v2h-2zM117.25,759h2v2h-2zM123.25,759h2v2h-2zM129.25,759h2v2h-2zM135.25,759h2v2h-2zM141.25,759h2v2h-2zM147.25,759h2v2h-2zM153.25,759h2v2h-2zM159.25,759h2v2h-2zM165.25,759h2v2h-2zM171.25,759h2v2h-2zM177.25,759h2v2h-2zM183.25,759h2v2h-2zM189.25,759h2v2h-2zM195.25,759h2v2h-2zM201.25,759h2v2h-2zM207.25,759h2v2h-2zM213.25,759h2v2h-2zM219.25,759h2v2h-2zM225.25,759h2v2h-2zM231.25,759h2v2h-2zM237.25,759h2v2h-2zM243.25,759h2v2h-2zM249.25,759h2v2h-2zM255.25,759h2v2h-2zM261.25,759h2v2h-2zM267.25,759h2v2h-2zM273.25,759h2v2h-2zM279.25,759h2v2h-2zM285.25,759h2v2h-2zM291.25,759h2v2h-2zM297.25,759h2v2h-2zM303.25,759h2v2h-2zM309.25,759h2v2h-2zM315.25,759h2v2h-2zM321.25,759h2v2h-2zM327.25,759h2v2h-2zM333.25,759h2v2h-2zM339.25,759h2v2h-2zM345.25,759h2v2h-2zM351.25,759h2v2h-2zM357.25,759h2v2h-2zM363.25,759h2v2h-2zM369.25,759h2v2h-2zM375.25,759h2v2h-2zM381.25,759h2v2h-2zM387.25,759h2v2h-2zM393.25,759h2v2h-2zM399.25,759h2v2h-2zM405.25,759h2v2h-2zM411.25,759h2v2h-2zM417.25,759h2v2h-2zM423.25,759h2v2h-2zM429.25,759h2v2h-2zM435.25,759h2v2h-2zM441.25,759h2v2h-2zM447.25,759h2v2h-2zM453.25,759h2v2h-2zM459.25,759h2v2h-2zM465.25,759h2v2h-2zM471.25,759h2v2h-2zM477.25,759h2v2h-2zM483.25,759h2v2h-2zM489.25,759h2v2h-2zM495.25,759h2v2h-2zM501.25,759h2v2h-2zM507.25,759h2v2h-2zM513.25,759h2v2h-2zM519.25,759h2v2h-2zM525.25,759h2v2h-2zM531.25,759h2v2h-2zM537.25,759h2v2h-2zM543.25,759h2v2h-2zM549.25,759h2v2h-2zM555.25,759h2v2h-2zM561.25,759h2v2h-2zM567.25,759h2v2h-2zM573.25,759h2v2h-2zM579.25,759h2v2h-2zM585.25,759h2v2h-2zM591.25,759h2v2h-2zM597.25,759h2v2h-2zM603.25,759h2v2h-2zM609.25,759h2v2h-2zM615.25,759h2v2h-2zM621.25,759h2v2h-2zM627.25,759h2v2h-2zM633.25,759h2v2h-2zM639.25,759h2v2h-2zM645.25,759h2v2h-2zM651.25,759h2v2h-2zM657.25,759h2v2h-2zM663.25,759h2v2h-2zM669.25,759h2v2h-2zM675.25,759h2v2h-2zM681.25,759h2v2h-2zM687.25,759h2v2h-2zM693.25,759h2v2h-2zM699.25,759h2v2h-2zM705.25,759h2v2h-2zM711.25,759h2v2h-2zM717.25,759h2v2h-2zM723.25,759h2v2h-2zM729.25,759h2v2h-2zM735.25,759h2v2h-2zM741.25,759h2v2h-2zM747.25,759h2v2h-2zM753.25,759h2v2h-2zM759.25,759h2v2h-2zM765.25,759h2v2h-2zM771.25,759h2v2h-2zM777.25,759h2v2h-2zM783.25,759h2v2h-2zM789.25,759h2v2h-2zM795.25,759h2v2h-2zM801.25,759h2v2h-2zM807.25,759h2v2h-2zM813.25,759h2v2h-2zM819.25,759h2v2h-2zM825.25,759h2v2h-2zM831.25,759h2v2h-2zM837.25,759h2v2h-2zM843.25,759h2v2h-2zM849.25,759h2v2h-2zM855.25,759h2v2h-2zM861.25,759h2v2h-2zM867.25,759h2v2h-2zM873.25,759h2v2h-2zM879.25,759h2v2h-2zM885.25,759h2v2h-2zM891.25,759h2v2h-2zM897.25,759h2v2h-2zM903.25,759h2v2h-2zM909.25,759h2v2h-2zM915.25,759h2v2h-2zM921.25,759h2v2h-2zM927.25,759h2v2h-2zM933.25,759h2v2h-2zM939.25,759h2v2h-2zM945.25,759h2v2h-2zM951.25,759h2v2h-2zM957.25,759h2v2h-2zM963.25,759h2v2h-2zM969.25,759h2v2h-2zM975.25,759h2v2h-2zM981.25,759h2v2h-2zM987.25,759h2v2h-2zM993.25,759h2v2h-2zM999.25,759h2v2h-2zM1005.25,759h2v2h-2zM1011.25,759h2v2h-2zM1017.25,759h2v2h-2zM1023.25,759h2v2h-2zM1029.25,759h2v2h-2zM1035.25,759h2v2h-2zM1041.25,759h2v2h-2zM1047.25,759h2v2h-2zM1053.25,759h2v2h-2zM1059.25,759h2v2h-2zM1065.25,759h2v2h-2zM1071.25,759h2v2h-2zM1077.25,759h2v2h-2zM1083.25,759h2v2h-2zM1089.25,759h2v2h-2zM1095.25,759h2v2h-2zM1101.25,759h2v2h-2zM1107.25,759h2v2h-2zM1113.25,759h2v2h-2zM1119.25,759h2v2h-2zM1125.25,759h2v2h-2zM1131.25,759h2v2h-2zM1137.25,759h2v2h-2zM1143.25,759h2v2h-2zM1149.25,759h2v2h-2zM1155.25,759h2v2h-2zM1161.25,759h2v2h-2zM1167.25,759h2v2h-2zM1173.25,759h2v2h-2zM1179.25,759h2v2h-2zM1185.25,759h2v2h-2zM1191.25,759h2v2h-2zM1197.25,759h2v2h-2zM1203.25,759h2v2h-2zM1209.25,759h2v2h-2zM1215.25,759h2v2h-2zM1221.25,759h2v2h-2zM1227.25,759h2v2h-2zM1233.25,759h2v2h-2zM1239.25,759h2v2h-2zM1245.25,759h2v2h-2zM1251.25,759h2v2h-2zM1257.25,759h2v2h-2zM1263.25,759h2v2h-2zM1269.25,759h2v2h-2zM1275.25,759h2v2h-2zM1281.25,759h2v2h-2zM1287.25,759h2v2h-2zM1293.25,759h2v2h-2zM1299.25,759h2v2h-2zM1305.25,759h2v2h-2zM1311.25,759h2v2h-2zM1317.25,759h2v2h-2zM1323.25,759h2v2h-2zM1329.25,759h2v2h-2zM1335.25,759h2v2h-2zM1341.25,759h2v2h-2zM1347.25,759h2v2h-2zM1353.25,759h2v2h-2zM1359.25,759h2v2h-2zM1365.25,759h2v2h-2zM1371.25,759h2v2h-2zM1377.25,759h2v2h-2zM1383.25,759h2v2h-2zM1389.25,759h2v2h-2zM1395.25,759h2v2h-2zM1401.25,759h2v2h-2zM1407.25,759h2v2h-2zM1413.25,759h2v2h-2zM1419.25,759h2v2h-2zM1425.25,759h2v2h-2zM1431.25,759h2v2h-2zM1437.25,759h2v2h-2zM1443.25,759h2v2h-2zM1449.25,759h2v2h-2zM1455.25,759h2v2h-2zM1461.25,759h2v2h-2z" fill="#760000"/>
<path d="M3.25,782h2v2h-2zM9.25,782h2v2h-2zM15.25,782h2v2h-2zM21.25,782h2v2h-2zM27.25,782h2v2h-2zM33.25,782h2v2h-2zM39.25,782h2v2h-2zM45.25,782h2v2h-2zM51.25,782h2v2h-2zM57.25,782h2v2h-2zM63.25,782h2v2h-2zM69.25,782h2v2h-2zM75.25,782h2v2h-2zM81.25,782h2v2h-2zM87.25,782h2v2h-2zM93.25,782h2v2h-2zM99.25,782h2v2h-2zM105.25,782h2v2h-2zM111.25,782h2v2h-2zM117.25,782h2v2h-2zM123.25,782h2v2h-2zM129.25,782h2v2h-2zM135.25,782h2v2h-2zM141.25,782h2v2h-2zM147.25,782h2v2h-2zM153.25,782h2v2h-2zM159.25,782h2v2h-2zM165.25,782h2v2h-2zM171.25,782h2v2h-2zM177.25,782h2v2h-2zM183.25,782h2v2h-2zM189.25,782h2v2h-2zM195.25,782h2v2h-2zM201.25,782h2v2h-2zM207.25,782h2v2h-2zM213.25,782h2v2h-2zM219.25,782h2v2h-2zM225.25,782h2v2h-2zM231.25,782h2v2h-2zM237.25,782h2v2h-2zM243.25,782h2v2h-2zM249.25,782h2v2h-2zM255.25,782h2v2h-2zM261.25,782h2v2h-2zM267.25,782h2v2h-2zM273.25,782h2v2h-2zM279.25,782h2v2h-2zM285.25,782h2v2h-2zM291.25,782h2v2h-2zM297.25,782h2v2h-2zM303.25,782h2v2h-2zM309.25,782h2v2h-2zM315.25,782h2v2h-2zM321.25,782h2v2h-2zM327.25,782h2v2h-2zM333.25,782h2v2h-2zM339.25,782h2v2h-2zM345.25,782h2v2h-2zM351.25,782h2v2h-2zM357.25,782h2v2h-2zM363.25,782h2v2h-2zM369.25,782h2v2h-2zM375.25,782h2v2h-2zM381.25,782h2v2h-2zM387.25,782h2v2h-2zM393.25,782h2v2h-2zM399.25,782h2v2h-2zM405.25,782h2v2h-2zM411.25,782h2v2h-2zM417.25,782h2v2h-2zM423.25,782h2v2h-2zM429.25,782h2v2h-2zM435.25,782h2v2h-2zM441.25,782h2v2h-2zM447.25,782h2v2h-2zM453.25,782h2v2h-2zM459.25,782h2v2h-2zM465.25,782h2v2h-2zM471.25,782h2v2h-2zM477.25,782h2v2h-2zM483.25,782h2v2h-2zM489.25,782h2v2h-2zM495.25,782h2v2h-2zM501.25,782h2v2h-2zM507.25,782h2v2h-2zM513.25,782h2v2h-2zM519.25,782h2v2h-2zM525.25,782h2v2h-2zM531.25,782h2v2h-2zM537.25,782h2v2h-2zM543.25,782h2v2h-2zM549.25,782h2v2h-2zM555.25,782h2v2h-2zM561.25,782h2v2h-2zM567.25,782h2v2h-2zM573.25,782h2v2h-2zM579.25,782h2v2h-2zM585.25,782h2v2h-2zM591.25,782h2v2h-2zM597.25,782h2v2h-2zM603.25,782h2v2h-2zM609.25,782h2v2h-2zM615.25,782h2v2h-2zM621.25,782h2v2h-2zM627.25,782h2v2h-2zM633.25,782h2v2h-2zM639.25,782h2v2h-2zM645.25,782h2v2h-2zM651.25,782h2v2h-2zM657.25,782h2v2h-2zM663.25,782h2v2h-2zM669.25,782h2v2h-2zM675.25,782h2v2h-2zM681.25,782h2v2h-2zM687.25,782h2v2h-2zM693.25,782h2v2h-2zM699.25,782h2v2h-2zM705.25,782h2v2h-2zM711.25,782h2v2h-2zM717.25,782h2v2h-2zM723.25,782h2v2h-2zM729.25,782h2v2h-2zM735.25,782h2v2h-2zM741.25,782h2v2h-2zM747.25,782h2v2h-2zM753.25,782h2v2h-2zM759.25,782h2v2h-2zM765.25,782h2v2h-2zM771.25,782h2v2h-2zM777.25,782h2v2h-2zM783.25,782h2v2h-2zM789.25,782h2v2h-2zM795.25,782h2v2h-2zM801.25,782h2v2h-2zM807.25,782h2v2h-2zM813.25,782h2v2h-2zM819.25,782h2v2h-2zM825.25,782h2v2h-2zM831.25,782h2v2h-2zM837.25,782h2v2h-2zM843.25,782h2v2h-2zM849.25,782h2v2h-2zM855.25,782h2v2h-2zM861.25,782h2v2h-2zM867.25,782h2v2h-2zM873.25,782h2v2h-2zM879.25,782h2v2h-2zM885.25,782h2v2h-2zM891.25,782h2v2h-2zM897.25,782h2v2h-2zM903.25,782h2v2h-2zM909.25,782h2v2h-2zM915.25,782h2v2h-2zM921.25,782h2v2h-2zM927.25,782h2v2h-2zM933.25,782h2v2h-2zM939.25,782h2v2h-2zM945.25,782h2v2h-2zM951.25,782h2v2h-2zM957.25,782h2v2h-2zM963.25,782h2v2h-2zM969.25,782h2v2h-2zM975.25,782h2v2h-2zM981.25,782h2v2h-2zM987.25,782h2v2h-2zM993.25,782h2v2h-2zM999.25,782h2v2h-2zM1005.25,782h2v2h-2zM1011.25,782h2v2h-2zM1017.25,782h2v2h-2zM1023.25,782h2v2h-2zM1029.25,782h2v2h-2zM1035.25,782h2v2h-2zM1041.25,782h2v2h-2zM1047.25,782h2v2h-2zM1053.25,782h2v2h-2zM1059.25,782h2v2h-2zM1065.25,782h2v2h-2zM1071.25,782h2v2h-2zM1077.25,782h2v2h-2zM1083.25,782h2v2h-2zM1089.25,782h2v2h-2zM1095.25,782h2v2h-2zM1101.25,782h2v2h-2zM1107.25,782h2v2h-2zM1113.25,782h2v2h-2zM1119.25,782h2v2h-2zM1125.25,782h2v2h-2zM1131.25,782h2v2h-2zM1137.25,782h2v2h-2zM1143.25,782h2v2h-2zM1149.25,782h2v2h-2zM1155.25,782h2v2h-2zM1161.25,782h2v2h-2zM1167.25,782h2v2h-2zM1173.25,782h2v2h-2zM1179.25,782h2v2h-2zM1185.25,782h2v2h-2zM1191.25,782h2v2h-2zM1197.25,782h2v2h-2zM1203.25,782h2v2h-2zM1209.25,782h2v2h-2zM1215.25,782h2v2h-2zM1221.25,782h2v2h-2zM1227.25,782h2v2h-2zM1233.25,782h2v2h-2zM1239.25,782h2v2h-2zM1245.25,782h2v2h-2zM1251.25,782h2v2h-2zM1257.25,782h2v2h-2zM1263.25,782h2v2h-2zM1269.25,782h2v2h-2zM1275.25,782h2v2h-2zM1281.25,782h2v2h-2zM1287.25,782h2v2h-2zM1293.25,782h2v2h-2zM1299.25,782h2v2h-2zM1305.25,782h2v2h-2zM1311.25,782h2v2h-2zM1317.25,782h2v2h-2zM1323.25,782h2v2h-2zM1329.25,782h2v2h-2zM1335.25,782h2v2h-2zM1341.25,782h2v2h-2zM1347.25,782h2v2h-2zM1353.25,782h2v2h-2zM1359.25,782h2v2h-2zM1365.25,782h2v2h-2zM1371.25,782h2v2h-2zM1377.25,782h2v2h-2zM1383.25,782h2v2h-2zM1389.25,782h2v2h-2zM1395.25,782h2v2h-2zM1401.25,782h2v2h-2zM1407.25,782h2v2h-2zM1413.25,782h2v2h-2zM1419.25,782h2v2h-2zM1425.25,782h2v2h-2zM1431.25,782h2v2h-2zM1437.25,782h2v2h-2zM1443.25,782h2v2h-2zM1449.25,782h2v2h-2zM1455.25,782h2v2h-2zM1461.25,782h2v2h-2z" fill="#760000"/>
<path d="M3.25,813h2v2h-2zM9.25,813h2v2h-2zM15.25,813h2v2h-2zM21.25,813h2v2h-2zM27.25,813h2v2h-2zM33.25,813h2v2h-2zM39.25,813h2v2h-2zM45.25,813h2v2h-2zM51.25,813h2v2h-2zM57.25,813h2v2h-2zM63.25,813h2v2h-2zM69.25,813h2v2h-2zM75.25,813h2v2h-2zM81.25,813h2v2h-2zM87.25,813h2v2h-2zM93.25,813h2v2h-2zM99.25,813h2v2h-2zM105.25,813h2v2h-2zM111.25,813h2v2h-2zM117.25,813h2v2h-2zM123.25,813h2v2h-2zM129.25,813h2v2h-2zM135.25,813h2v2h-2zM141.25,813h2v2h-2zM147.25,813h2v2h-2zM153.25,813h2v2h-2zM159.25,813h2v2h-2zM165.25,813h2v2h-2zM171.25,813h2v2h-2zM177.25,813h2v2h-2zM183.25,813h2v2h-2zM189.25,813h2v2h-2zM195.25,813h2v2h-2zM201.25,813h2v2h-2zM207.25,813h2v2h-2zM213.25,813h2v2h-2zM219.25,813h2v2h-2zM225.25,813h2v2h-2zM231.25,813h2v2h-2zM237.25,813h2v2h-2zM243.25,813h2v2h-2zM249.25,813h2v2h-2zM255.25,813h2v2h-2zM261.25,813h2v2h-2zM267.25,813h2v2h-2zM273.25,813h2v2h-2zM279.25,813h2v2h-2zM285.25,813h2v2h-2zM291.25,813h2v2h-2zM297.25,813h2v2h-2zM303.25,813h2v2h-2zM309.25,813h2v2h-2zM315.25,813h2v2h-2zM321.25,813h2v2h-2zM327.25,813h2v2h-2zM333.25,813h2v2h-2zM339.25,813h2v2h-2zM345.25,813h2v2h-2zM351.25,813h2v2h-2zM357.25,813h2v2h-2zM363.25,813h2v2h-2zM369.25,813h2v2h-2zM375.25,813h2v2h-2zM381.25,813h2v2h-2zM387.25,813h2v2h-2zM393.25,813h2v2h-2zM399.25,813h2v2h-2zM405.25,813h2v2h-2zM411.25,813h2v2h-2zM417.25,813h2v2h-2zM423.25,813h2v2h-2zM429.25,813h2v2h-2zM435.25,813h2v2h-2zM441.25,813h2v2h-2zM447.25,813h2v2h-2zM453.25,813h2v2h-2zM459.25,813h2v2h-2zM465.25,813h2v2h-2zM471.25,813h2v2h-2zM477.25,813h2v2h-2zM483.25,813h2v2h-2zM489.25,813h2v2h-2zM495.25,813h2v2h-2zM501.25,813h2v2h-2zM507.25,813h2v2h-2zM513.25,813h2v2h-2zM519.25,813h2v2h-2zM525.25,813h2v2h-2zM531.25,813h2v2h-2zM537.25,813h2v2h-2zM543.25,813h2v2h-2zM549.25,813h2v2h-2zM555.25,813h2v2h-2zM561.25,813h2v2h-2zM567.25,813h2v2h-2zM573.25,813h2v2h-2zM579.25,813h2v2h-2zM585.25,813h2v2h-2zM591.25,813h2v2h-2zM597.25,813h2v2h-2zM603.25,813h2v2h-2zM609.25,813h2v2h-2zM615.25,813h2v2h-2zM621.25,813h2v2h-2zM627.25,813h2v2h-2zM633.25,813h2v2h-2zM639.25,813h2v2h-2zM645.25,813h2v2h-2zM651.25,813h2v2h-2zM657.25,813h2v2h-2zM663.25,813h2v2h-2zM669.25,813h2v2h-2zM675.25,813h2v2h-2zM681.25,813h2v2h-2zM687.25,813h2v2h-2zM693.25,813h2v2h-2zM699.25,813h2v2h-2zM705.25,813h2v2h-2zM711.25,813h2v2h-2zM717.25,813h2v2h-2zM723.25,813h2v2h-2zM729.25,813h2v2h-2zM735.25,813h2v2h-2zM741.25,813h2v2h-2zM747.25,813h2v2h-2zM753.25,813h2v2h-2zM759.25,813h2v2h-2zM765.25,813h2v2h-2zM771.25,813h2v2h-2zM777.25,813h2v2h-2zM783.25,813h2v2h-2zM789.25,813h2v2h-2zM795.25,813h2v2h-2zM801.25,813h2v2h-2zM807.25,813h2v2h-2zM813.25,813h2v2h-2zM819.25,813h2v2h-2zM825.25,813h2v2h-2zM831.25,813h2v2h-2zM837.25,813h2v2h-2zM843.25,813h2v2h-2zM849.25,813h2v2h-2zM855.25,813h2v2h-2zM861.25,813h2v2h-2zM867.25,813h2v2h-2zM873.25,813h2v2h-2zM879.25,813h2v2h-2zM885.25,813h2v2h-2zM891.25,813h2v2h-2zM897.25,813h2v2h-2zM903.25,813h2v2h-2zM909.25,813h2v2h-2zM915.25,813h2v2h-2zM921.25,813h2v2h-2zM927.25,813h2v2h-2zM933.25,813h2v2h-2zM939.25,813h2v2h-2zM945.25,813h2v2h-2zM951.25,813h2v2h-2zM957.25,813h2v2h-2zM963.25,813h2v2h-2zM969.25,813h2v2h-2zM975.25,813h2v2h-2zM981.25,813h2v2h-2zM987.25,813h2v2h-2zM993.25,813h2v2h-2zM999.25,813h2v2h-2zM1005.25,813h2v2h-2zM1011.25,813h2v2h-2zM1017.25,813h2v2h-2zM1023.25,813h2v2h-2zM1029.25,813h2v2h-2zM1035.25,813h2v2h-2zM1041.25,813h2v2h-2zM1047.25,813h2v2h-2zM1053.25,813h2v2h-2zM1059.25,813h2v2h-2zM1065.25,813h2v2h-2zM1071.25,813h2v2h-2zM1077.25,813h2v2h-2zM1083.25,813h2v2h-2zM1089.25,813h2v2h-2zM1095.25,813h2v2h-2zM1101.25,813h2v2h-2zM1107.25,813h2v2h-2zM1113.25,813h2v2h-2zM1119.25,813h2v2h-2zM1125.25,813h2v2h-2zM1131.25,813h2v2h-2zM1137.25,813h2v2h-2zM1143.25,813h2v2h-2zM1149.25,813h2v2h-2zM1155.25,813h2v2h-2zM1161.25,813h2v2h-2zM1167.25,813h2v2h-2zM1173.25,813h2v2h-2zM1179.25,813h2v2h-2zM1185.25,813h2v2h-2zM1191.25,813h2v2h-2zM1197.25,813h2v2h-2zM1203.25,813h2v2h-2zM1209.25,813h2v2h-2zM1215.25,813h2v2h-2zM1221.25,813h2v2h-2zM1227.25,813h2v2h-2zM1233.25,813h2v2h-2zM1239.25,813h2v2h-2zM1245.25,813h2v2h-2zM1251.25,813h2v2h-2zM1257.25,813h2v2h-2zM1263.25,813h2v2h-2zM1269.25,813h2v2h-2zM1275.25,813h2v2h-2zM1281.25,813h2v2h-2zM1287.25,813h2v2h-2zM1293.25,813h2v2h-2zM1299.25,813h2v2h-2zM1305.25,813h2v2h-2zM1311.25,813h2v2h-2zM1317.25,813h2v2h-2zM1323.25,813h2v2h-2zM1329.25,813h2v2h-2zM1335.25,813h2v2h-2zM1341.25,813h2v2h-2zM1347.25,813h2v2h-2zM1353.25,813h2v2h-2zM1359.25,813h2v2h-2zM1365.25,813h2v2h-2zM1371.25,813h2v2h-2zM1377.25,813h2v2h-2zM1383.25,813h2v2h-2zM1389.25,813h2v2h-2zM1395.25,813h2v2h-2zM1401.25,813h2v2h-2zM1407.25,813h2v2h-2zM1413.25,813h2v2h-2zM1419.25,813h2v2h-2zM1425.25,813h2v2h-2zM1431.25,813h2v2h-2zM1437.25,813h2v2h-2zM1443.25,813h2v2h-2zM1449.25,813h2v2h-2zM1455.25,813h2v2h-2zM1461.25,813h2v2h-2z" fill="#760000"/>
<path d="M3.25,846h2v2h-2zM9.25,846h2v2h-2zM15.25,846h2v2h-2zM21.25,846h2v2h-2zM27.25,846h2v2h-2zM33.25,846h2v2h-2zM39.25,846h2v2h-2zM45.25,846h2v2h-2zM51.25,846h2v2h-2zM57.25,846h2v2h-2zM63.25,846h2v2h-2zM69.25,846h2v2h-2zM75.25,846h2v2h-2zM81.25,846h2v2h-2zM87.25,846h2v2h-2zM93.25,846h2v2h-2zM99.25,846h2v2h-2zM105.25,846h2v2h-2zM111.25,846h2v2h-2zM117.25,846h2v2h-2zM123.25,846h2v2h-2zM129.25,846h2v2h-2zM135.25,846h2v2h-2zM141.25,846h2v2h-2zM147.25,846h2v2h-2zM153.25,846h2v2h-2zM159.25,846h2v2h-2zM165.25,846h2v2h-2zM171.25,846h2v2h-2zM177.25,846h2v2h-2zM183.25,846h2v2h-2zM189.25,846h2v2h-2zM195.25,846h2v2h-2zM201.25,846h2v2h-2zM207.25,846h2v2h-2zM213.25,846h2v2h-2zM219.25,846h2v2h-2zM225.25,846h2v2h-2zM231.25,846h2v2h-2zM237.25,846h2v2h-2zM243.25,846h2v2h-2zM249.25,846h2v2h-2zM255.25,846h2v2h-2zM261.25,846h2v2h-2zM267.25,846h2v2h-2zM273.25,846h2v2h-2zM279.25,846h2v2h-2zM285.25,846h2v2h-2zM291.25,846h2v2h-2zM297.25,846h2v2h-2zM303.25,846h2v2h-2zM309.25,846h2v2h-2zM315.25,846h2v2h-2zM321.25,846h2v2h-2zM327.25,846h2v2h-2zM333.25,846h2v2h-2zM339.25,846h2v2h-2zM345.25,846h2v2h-2zM351.25,846h2v2h-2zM357.25,846h2v2h-2zM363.25,846h2v2h-2zM369.25,846h2v2h-2zM375.25,846h2v2h-2zM381.25,846h2v2h-2zM387.25,846h2v2h-2zM393.25,846h2v2h-2zM399.25,846h2v2h-2zM405.25,846h2v2h-2zM411.25,846h2v2h-2zM417.25,846h2v2h-2zM423.25,846h2v2h-2zM429.25,846h2v2h-2zM435.25,846h2v2h-2zM441.25,846h2v2h-2zM447.25,846h2v2h-2zM453.25,846h2v2h-2zM459.25,846h2v2h-2zM465.25,846h2v2h-2zM471.25,846h2v2h-2zM477.25,846h2v2h-2zM483.25,846h2v2h-2zM489.25,846h2v2h-2zM495.25,846h2v2h-2zM501.25,846h2v2h-2zM507.25,846h2v2h-2zM513.25,846h2v2h-2zM519.25,846h2v2h-2zM525.25,846h2v2h-2zM531.25,846h2v2h-2zM537.25,846h2v2h-2zM543.25,846h2v2h-2zM549.25,846h2v2h-2zM555.25,846h2v2h-2zM561.25,846h2v2h-2zM567.25,846h2v2h-2zM573.25,846h2v2h-2zM579.25,846h2v2h-2zM585.25,846h2v2h-2zM591.25,846h2v2h-2zM597.25,846h2v2h-2zM603.25,846h2v2h-2zM609.25,846h2v2h-2zM615.25,846h2v2h-2zM621.25,846h2v2h-2zM627.25,846h2v2h-2zM633.25,846h2v2h-2zM639.25,846h2v2h-2zM645.25,846h2v2h-2zM651.25,846h2v2h-2zM657.25,846h2v2h-2zM663.25,846h2v2h-2zM669.25,846h2v2h-2zM675.25,846h2v2h-2zM681.25,846h2v2h-2zM687.25,846h2v2h-2zM693.25,846h2v2h-2zM699.25,846h2v2h-2zM705.25,846h2v2h-2zM711.25,846h2v2h-2zM717.25,846h2v2h-2zM723.25,846h2v2h-2zM729.25,846h2v2h-2zM735.25,846h2v2h-2zM741.25,846h2v2h-2zM747.25,846h2v2h-2zM753.25,846h2v2h-2zM759.25,846h2v2h-2zM765.25,846h2v2h-2zM771.25,846h2v2h-2zM777.25,846h2v2h-2zM783.25,846h2v2h-2zM789.25,846h2v2h-2zM795.25,846h2v2h-2zM801.25,846h2v2h-2zM807.25,846h2v2h-2zM813.25,846h2v2h-2zM819.25,846h2v2h-2zM825.25,846h2v2h-2zM831.25,846h2v2h-2zM837.25,846h2v2h-2zM843.25,846h2v2h-2zM849.25,846h2v2h-2zM855.25,846h2v2h-2zM861.25,846h2v2h-2zM867.25,846h2v2h-2zM873.25,846h2v2h-2zM879.25,846h2v2h-2zM885.25,846h2v2h-2zM891.25,846h2v2h-2zM897.25,846h2v2h-2zM903.25,846h2v2h-2zM909.25,846h2v2h-2zM915.25,846h2v2h-2zM921.25,846h2v2h-2zM927.25,846h2v2h-2zM933.25,846h2v2h-2zM939.25,846h2v2h-2zM945.25,846h2v2h-2zM951.25,846h2v2h-2zM957.25,846h2v2h-2zM963.25,846h2v2h-2zM969.25,846h2v2h-2zM975.25,846h2v2h-2zM981.25,846h2v2h-2zM987.25,846h2v2h-2zM993.25,846h2v2h-2zM999.25,846h2v2h-2zM1005.25,846h2v2h-2zM1011.25,846h2v2h-2zM1017.25,846h2v2h-2zM1023.25,846h2v2h-2zM1029.25,846h2v2h-2zM1035.25,846h2v2h-2zM1041.25,846h2v2h-2zM1047.25,846h2v2h-2zM1053.25,846h2v2h-2zM1059.25,846h2v2h-2zM1065.25,846h2v2h-2zM1071.25,846h2v2h-2zM1077.25,846h2v2h-2zM1083.25,846h2v2h-2zM1089.25,846h2v2h-2zM1095.25,846h2v2h-2zM1101.25,846h2v2h-2zM1107.25,846h2v2h-2zM1113.25,846h2v2h-2zM1119.25,846h2v2h-2zM1125.25,846h2v2h-2zM1131.25,846h2v2h-2zM1137.25,846h2v2h-2zM1143.25,846h2v2h-2zM1149.25,846h2v2h-2zM1155.25,846h2v2h-2zM1161.25,846h2v2h-2zM1167.25,846h2v2h-2zM1173.25,846h2v2h-2zM1179.25,846h2v2h-2zM1185.25,846h2v2h-2zM1191.25,846h2v2h-2zM1197.25,846h2v2h-2zM1203.25,846h2v2h-2zM1209.25,846h2v2h-2zM1215.25,846h2v2h-2zM1221.25,846h2v2h-2zM1227.25,846h2v2h-2zM1233.25,846h2v2h-2zM1239.25,846h2v2h-2zM1245.25,846h2v2h-2zM1251.25,846h2v2h-2zM1257.25,846h2v2h-2zM1263.25,846h2v2h-2zM1269.25,846h2v2h-2zM1275.25,846h2v2h-2zM1281.25,846h2v2h-2zM1287.25,846h2v2h-2zM1293.25,846h2v2h-2zM1299.25,846h2v2h-2zM1305.25,846h2v2h-2zM1311.25,846h2v2h-2zM1317.25,846h2v2h-2zM1323.25,846h2v2h-2zM1329.25,846h2v2h-2zM1335.25,846h2v2h-2zM1341.25,846h2v2h-2zM1347.25,846h2v2h-2zM1353.25,846h2v2h-2zM1359.25,846h2v2h-2zM1365.25,846h2v2h-2zM1371.25,846h2v2h-2zM1377.25,846h2v2h-2zM1383.25,846h2v2h-2zM1389.25,846h2v2h-2zM1395.25,846h2v2h-2zM1401.25,846h2v2h-2zM1407.25,846h2v2h-2zM1413.25,846h2v2h-2zM1419.25,846h2v2h-2zM1425.25,846h2v2h-2zM1431.25,846h2v2h-2zM1437.25,846h2v2h-2zM1443.25,846h2v2h-2zM1449.25,846h2v2h-2zM1455.25,846h2v2h-2zM1461.25,846h2v2h-2z" fill="#760000"/>
<path d="M3.25,869h2v2h-2zM9.25,869h2v2h-2zM15.25,869h2v2h-2zM21.25,869h2v2h-2zM27.25,869h2v2h-2zM33.25,869h2v2h-2zM39.25,869h2v2h-2zM45.25,869h2v2h-2zM51.25,869h2v2h-2zM57.25,869h2v2h-2zM63.25,869h2v2h-2zM69.25,869h2v2h-2zM75.25,869h2v2h-2zM81.25,869h2v2h-2zM87.25,869h2v2h-2zM93.25,869h2v2h-2zM99.25,869h2v2h-2zM105.25,869h2v2h-2zM111.25,869h2v2h-2zM117.25,869h2v2h-2zM123.25,869h2v2h-2zM129.25,869h2v2h-2zM135.25,869h2v2h-2zM141.25,869h2v2h-2zM147.25,869h2v2h-2zM153.25,869h2v2h-2zM159.25,869h2v2h-2zM165.25,869h2v2h-2zM171.25,869h2v2h-2zM177.25,869h2v2h-2zM183.25,869h2v2h-2zM189.25,869h2v2h-2zM195.25,869h2v2h-2zM201.25,869h2v2h-2zM207.25,869h2v2h-2zM213.25,869h2v2h-2zM219.25,869h2v2h-2zM225.25,869h2v2h-2zM231.25,869h2v2h-2zM237.25,869h2v2h-2zM243.25,869h2v2h-2zM249.25,869h2v2h-2zM255.25,869h2v2h-2zM261.25,869h2v2h-2zM267.25,869h2v2h-2zM273.25,869h2v2h-2zM279.25,869h2v2h-2zM285.25,869h2v2h-2zM291.25,869h2v2h-2zM297.25,869h2v2h-2zM303.25,869h2v2h-2zM309.25,869h2v2h-2zM315.25,869h2v2h-2zM321.25,869h2v2h-2zM327.25,869h2v2h-2zM333.25,869h2v2h-2zM339.25,869h2v2h-2zM345.25,869h2v2h-2zM351.25,869h2v2h-2zM357.25,869h2v2h-2zM363.25,869h2v2h-2zM369.25,869h2v2h-2zM375.25,869h2v2h-2zM381.25,869h2v2h-2zM387.25,869h2v2h-2zM393.25,869h2v2h-2zM399.25,869h2v2h-2zM405.25,869h2v2h-2zM411.25,869h2v2h-2zM417.25,869h2v2h-2zM423.25,869h2v2h-2zM429.25,869h2v2h-2zM435.25,869h2v2h-2zM441.25,869h2v2h-2zM447.25,869h2v2h-2zM453.25,869h2v2h-2zM459.25,869h2v2h-2zM465.25,869h2v2h-2zM471.25,869h2v2h-2zM477.25,869h2v2h-2zM483.25,869h2v2h-2zM489.25,869h2v2h-2zM495.25,869h2v2h-2zM501.25,869h2v2h-2zM507.25,869h2v2h-2zM513.25,869h2v2h-2zM519.25,869h2v2h-2zM525.25,869h2v2h-2zM531.25,869h2v2h-2zM537.25,869h2v2h-2zM543.25,869h2v2h-2zM549.25,869h2v2h-2zM555.25,869h2v2h-2zM561.25,869h2v2h-2zM567.25,869h2v2h-2zM573.25,869h2v2h-2zM579.25,869h2v2h-2zM585.25,869h2v2h-2zM591.25,869h2v2h-2zM597.25,869h2v2h-2zM603.25,869h2v2h-2zM609.25,869h2v2h-2zM615.25,869h2v2h-2zM621.25,869h2v2h-2zM627.25,869h2v2h-2zM633.25,869h2v2h-2zM639.25,869h2v2h-2zM645.25,869h2v2h-2zM651.25,869h2v2h-2zM657.25,869h2v2h-2zM663.25,869h2v2h-2zM669.25,869h2v2h-2zM675.25,869h2v2h-2zM681.25,869h2v2h-2zM687.25,869h2v2h-2zM693.25,869h2v2h-2zM699.25,869h2v2h-2zM705.25,869h2v2h-2zM711.25,869h2v2h-2zM717.25,869h2v2h-2zM723.25,869h2v2h-2zM729.25,869h2v2h-2zM735.25,869h2v2h-2zM741.25,869h2v2h-2zM747.25,869h2v2h-2zM753.25,869h2v2h-2zM759.25,869h2v2h-2zM765.25,869h2v2h-2zM771.25,869h2v2h-2zM777.25,869h2v2h-2zM783.25,869h2v2h-2zM789.25,869h2v2h-2zM795.25,869h2v2h-2zM801.25,869h2v2h-2zM807.25,869h2v2h-2zM813.25,869h2v2h-2zM819.25,869h2v2h-2zM825.25,869h2v2h-2zM831.25,869h2v2h-2zM837.25,869h2v2h-2zM843.25,869h2v2h-2zM849.25,869h2v2h-2zM855.25,869h2v2h-2zM861.25,869h2v2h-2zM867.25,869h2v2h-2zM873.25,869h2v2h-2zM879.25,869h2v2h-2zM885.25,869h2v2h-2zM891.25,869h2v2h-2zM897.25,869h2v2h-2zM903.25,869h2v2h-2zM909.25,869h2v2h-2zM915.25,869h2v2h-2zM921.25,869h2v2h-2zM927.25,869h2v2h-2zM933.25,869h2v2h-2zM939.25,869h2v2h-2zM945.25,869h2v2h-2zM951.25,869h2v2h-2zM957.25,869h2v2h-2zM963.25,869h2v2h-2zM969.25,869h2v2h-2zM975.25,869h2v2h-2zM981.25,869h2v2h-2zM987.25,869h2v2h-2zM993.25,869h2v2h-2zM999.25,869h2v2h-2zM1005.25,869h2v2h-2zM1011.25,869h2v2h-2zM1017.25,869h2v2h-2zM1023.25,869h2v2h-2zM1029.25,869h2v2h-2zM1035.25,869h2v2h-2zM1041.25,869h2v2h-2zM1047.25,869h2v2h-2zM1053.25,869h2v2h-2zM1059.25,869h2v2h-2zM1065.25,869h2v2h-2zM1071.25,869h2v2h-2zM1077.25,869h2v2h-2zM1083.25,869h2v2h-2zM1089.25,869h2v2h-2zM1095.25,869h2v2h-2zM1101.25,869h2v2h-2zM1107.25,869h2v2h-2zM1113.25,869h2v2h-2zM1119.25,869h2v2h-2zM1125.25,869h2v2h-2zM1131.25,869h2v2h-2zM1137.25,869h2v2h-2zM1143.25,869h2v2h-2zM1149.25,869h2v2h-2zM1155.25,869h2v2h-2zM1161.25,869h2v2h-2zM1167.25,869h2v2h-2zM1173.25,869h2v2h-2zM1179.25,869h2v2h-2zM1185.25,869h2v2h-2zM1191.25,869h2v2h-2zM1197.25,869h2v2h-2zM1203.25,869h2v2h-2zM1209.25,869h2v2h-2zM1215.25,869h2v2h-2zM1221.25,869h2v2h-2zM1227.25,869h2v2h-2zM1233.25,869h2v2h-2zM1239.25,869h2v2h-2zM1245.25,869h2v2h-2zM1251.25,869h2v2h-2zM1257.25,869h2v2h-2zM1263.25,869h2v2h-2zM1269.25,869h2v2h-2zM1275.25,869h2v2h-2zM1281.25,869h2v2h-2zM1287.25,869h2v2h-2zM1293.25,869h2v2h-2zM1299.25,869h2v2h-2zM1305.25,869h2v2h-2zM1311.25,869h2v2h-2zM1317.25,869h2v2h-2zM1323.25,869h2v2h-2zM1329.25,869h2v2h-2zM1335.25,869h2v2h-2zM1341.25,869h2v2h-2zM1347.25,869h2v2h-2zM1353.25,869h2v2h-2zM1359.25,869h2v2h-2zM1365.25,869h2v2h-2zM1371.25,869h2v2h-2zM1377.25,869h2v2h-2zM1383.25,869h2v2h-2zM1389.25,869h2v2h-2zM1395.25,869h2v2h-2zM1401.25,869h2v2h-2zM1407.25,869h2v2h-2zM1413.25,869h2v2h-2zM1419.25,869h2v2h-2zM1425.25,869h2v2h-2zM1431.25,869h2v2h-2zM1437.25,869h2v2h-2zM1443.25,869h2v2h-2zM1449.25,869h2v2h-2zM1455.25,869h2v2h-2zM1461.25,869h2v2h-2z" fill="#760000"/>
<line x1="123.3" y1="39.7" x2="1467.5" y2="468.7" stroke="#ffff00" stroke-width="1.4"/>
<line x1="314.2" y1="39.6" x2="1467.5" y2="398.8" stroke="#ffff00" stroke-width="1.4"/>
<line x1="2.2" y1="129.8" x2="1222.4" y2="521.5" stroke="#ffff00" stroke-width="1.4"/>
<line x1="2.2" y1="317.3" x2="658.2" y2="521.5" stroke="#ffff00" stroke-width="1.4"/>
<rect x="984.5" y="366.2" width="483" height="5.5" fill="#808080"/>
<rect x="7.75" y="61.6" width="1.6" height="4.4" fill="#54ffff"/>
<rect x="7.75" y="93.0" width="1.6" height="2.7" fill="#54ffff"/>
<rect x="3.12" y="66.0" width="10.85" height="27.0" fill="#54ffff"/>
<rect x="20.71" y="132.0" width="1.6" height="11.8" fill="#54ffff"/>
<rect x="16.09" y="97.5" width="10.85" height="34.5" fill="#54ffff"/>
<rect x="33.68" y="126.2" width="1.6" height="4.5" fill="#54ffff"/>
<rect x="33.68" y="168.4" width="1.6" height="0.9" fill="#54ffff"/>
<rect x="29.06" y="130.7" width="10.85" height="37.7" fill="#54ffff"/>
<rect x="46.65" y="146.0" width="1.6" height="1.0" fill="#54ffff"/>
<rect x="46.65" y="148.0" width="1.6" height="39.3" fill="#54ffff"/>
<rect x="42.02" y="147.0" width="10.85" height="1.6" fill="#54ffff"/>
<rect x="59.62" y="118.5" width="1.6" height="7.7" fill="#ff3232"/>
<rect x="54.99" y="126.2" width="10.85" height="18.9" fill="#ff3232"/>
<rect x="72.59" y="132.0" width="1.6" height="4.6" fill="#54ffff"/>
<rect x="72.59" y="163.6" width="1.6" height="4.3" fill="#54ffff"/>
<rect x="67.96" y="136.6" width="10.85" height="27.0" fill="#54ffff"/>
<rect x="85.55" y="155.0" width="1.6" height="11.6" fill="#ff3232"/>
<rect x="85.55" y="170.8" width="1.6" height="12.9" fill="#ff3232"/>
<rect x="80.93" y="166.6" width="10.85" height="4.2" fill="#ff3232"/>
<rect x="98.52" y="111.5" width="1.6" height="5.7" fill="#ff3232"/>
<rect x="93.90" y="117.2" width="10.85" height="47.6" fill="#ff3232"/>
<rect x="111.49" y="121.7" width="1.6" height="4.5" fill="#ff3232"/>
<rect x="106.86" y="126.2" width="10.85" height="4.5" fill="#ff3232"/>
<rect x="124.46" y="123.0" width="1.6" height="1.4" fill="#54ffff"/>
<rect x="124.46" y="160.4" width="1.6" height="6.2" fill="#54ffff"/>
<rect x="119.83" y="124.4" width="10.85" height="36.0" fill="#54ffff"/>
<rect x="137.43" y="150.5" width="1.6" height="4.5" fill="#54ffff"/>
<rect x="137.43" y="156.0" width="1.6" height="26.0" fill="#54ffff"/>
<rect x="132.80" y="155.0" width="10.85" height="1.6" fill="#54ffff"/>
<rect x="150.39" y="143.1" width="1.6" height="8.6" fill="#54ffff"/>
<rect x="150.39" y="155.7" width="1.6" height="13.5" fill="#54ffff"/>
<rect x="145.77" y="151.7" width="10.85" height="4.0" fill="#54ffff"/>
<rect x="163.36" y="136.8" width="1.6" height="2.7" fill="#ff3232"/>
<rect x="163.36" y="162.0" width="1.6" height="14.3" fill="#ff3232"/>
<rect x="158.74" y="139.5" width="10.85" height="22.5" fill="#ff3232"/>
<rect x="176.33" y="137.7" width="1.6" height="8.8" fill="#54ffff"/>
<rect x="176.33" y="147.5" width="1.6" height="4.6" fill="#54ffff"/>
<rect x="171.70" y="146.5" width="10.85" height="1.6" fill="#54ffff"/>
<rect x="189.30" y="145.0" width="1.6" height="0.8" fill="#ff3232"/>
<rect x="184.67" y="111.2" width="10.85" height="33.8" fill="#ff3232"/>
<rect x="202.27" y="83.9" width="1.6" height="7.5" fill="#ff3232"/>
<rect x="197.64" y="91.4" width="10.85" height="20.8" fill="#ff3232"/>
<rect x="215.23" y="87.1" width="1.6" height="4.9" fill="#54ffff"/>
<rect x="215.23" y="93.0" width="1.6" height="10.6" fill="#54ffff"/>
<rect x="210.61" y="92.0" width="10.85" height="1.6" fill="#54ffff"/>
<rect x="228.20" y="79.4" width="1.6" height="2.1" fill="#ff3232"/>
<rect x="228.20" y="83.3" width="1.6" height="12.8" fill="#ff3232"/>
<rect x="223.58" y="81.5" width="10.85" height="1.8" fill="#ff3232"/>
<rect x="241.17" y="74.9" width="1.6" height="2.1" fill="#54ffff"/>
<rect x="236.54" y="77.0" width="10.85" height="12.6" fill="#54ffff"/>
<rect x="254.14" y="72.2" width="1.6" height="8.6" fill="#ff3232"/>
<rect x="249.51" y="80.8" width="10.85" height="5.8" fill="#ff3232"/>
<rect x="267.11" y="74.9" width="1.6" height="13.5" fill="#ff3232"/>
<rect x="262.48" y="65.9" width="10.85" height="9.0" fill="#ff3232"/>
<rect x="280.07" y="65.9" width="1.6" height="9.0" fill="#54ffff"/>
<rect x="280.07" y="83.5" width="1.6" height="3.1" fill="#54ffff"/>
<rect x="275.45" y="74.9" width="10.85" height="8.6" fill="#54ffff"/>
<rect x="293.04" y="81.2" width="1.6" height="2.7" fill="#54ffff"/>
<rect x="293.04" y="95.5" width="1.6" height="6.3" fill="#54ffff"/>
<rect x="288.42" y="83.9" width="10.85" height="11.6" fill="#54ffff"/>
<rect x="306.01" y="98.2" width="1.6" height="6.3" fill="#ff3232"/>
<rect x="301.38" y="64.5" width="10.85" height="33.7" fill="#ff3232"/>
<rect x="318.98" y="54.0" width="1.6" height="2.8" fill="#ff3232"/>
<rect x="314.35" y="48.3" width="10.85" height="5.7" fill="#ff3232"/>
<rect x="331.94" y="50.3" width="1.6" height="15.4" fill="#ff3232"/>
<rect x="327.32" y="48.3" width="10.85" height="2.0" fill="#ff3232"/>
<rect x="344.91" y="50.7" width="1.6" height="4.9" fill="#54ffff"/>
<rect x="340.29" y="55.6" width="10.85" height="27.9" fill="#54ffff"/>
<rect x="357.88" y="81.2" width="1.6" height="4.5" fill="#54ffff"/>
<rect x="357.88" y="96.0" width="1.6" height="3.1" fill="#54ffff"/>
<rect x="353.26" y="85.7" width="10.85" height="10.3" fill="#54ffff"/>
<rect x="370.85" y="94.3" width="1.6" height="7.5" fill="#54ffff"/>
<rect x="370.85" y="106.3" width="1.6" height="9.0" fill="#54ffff"/>
<rect x="366.22" y="101.8" width="10.85" height="4.5" fill="#54ffff"/>
<rect x="383.82" y="100.9" width="1.6" height="10.3" fill="#54ffff"/>
<rect x="383.82" y="112.2" width="1.6" height="14.8" fill="#54ffff"/>
<rect x="379.19" y="111.2" width="10.85" height="1.6" fill="#54ffff"/>
<rect x="396.79" y="106.3" width="1.6" height="11.3" fill="#54ffff"/>
<rect x="396.79" y="124.3" width="1.6" height="5.4" fill="#54ffff"/>
<rect x="392.16" y="117.6" width="10.85" height="6.7" fill="#54ffff"/>
<rect x="409.75" y="153.5" width="1.6" height="2.5" fill="#54ffff"/>
<rect x="405.13" y="156.0" width="10.85" height="32.9" fill="#54ffff"/>
<rect x="422.72" y="142.8" width="1.6" height="1.2" fill="#ff3232"/>
<rect x="422.72" y="172.8" width="1.6" height="5.9" fill="#ff3232"/>
<rect x="418.10" y="144.0" width="10.85" height="28.8" fill="#ff3232"/>
<rect x="435.69" y="139.5" width="1.6" height="13.5" fill="#54ffff"/>
<rect x="435.69" y="160.7" width="1.6" height="13.0" fill="#54ffff"/>
<rect x="431.06" y="153.0" width="10.85" height="7.7" fill="#54ffff"/>
<rect x="448.66" y="143.8" width="1.6" height="4.7" fill="#ff3232"/>
<rect x="448.66" y="154.0" width="1.6" height="4.7" fill="#ff3232"/>
<rect x="444.03" y="148.5" width="10.85" height="5.5" fill="#ff3232"/>
<rect x="461.62" y="149.3" width="1.6" height="7.8" fill="#ff3232"/>
<rect x="457.00" y="128.9" width="10.85" height="20.4" fill="#ff3232"/>
<rect x="474.59" y="125.7" width="1.6" height="3.5" fill="#ff3232"/>
<rect x="474.59" y="133.6" width="1.6" height="4.7" fill="#ff3232"/>
<rect x="469.97" y="129.2" width="10.85" height="4.4" fill="#ff3232"/>
<rect x="487.56" y="117.1" width="1.6" height="5.8" fill="#54ffff"/>
<rect x="487.56" y="133.6" width="1.6" height="2.3" fill="#54ffff"/>
<rect x="482.94" y="122.9" width="10.85" height="10.7" fill="#54ffff"/>
<rect x="500.53" y="139.9" width="1.6" height="1.5" fill="#54ffff"/>
<rect x="500.53" y="167.8" width="1.6" height="10.6" fill="#54ffff"/>
<rect x="495.90" y="141.4" width="10.85" height="26.4" fill="#54ffff"/>
<rect x="513.50" y="171.3" width="1.6" height="5.0" fill="#54ffff"/>
<rect x="513.50" y="177.3" width="1.6" height="13.2" fill="#54ffff"/>
<rect x="508.87" y="176.3" width="10.85" height="1.6" fill="#54ffff"/>
<rect x="526.47" y="156.4" width="1.6" height="0.7" fill="#ff3232"/>
<rect x="526.47" y="178.4" width="1.6" height="16.5" fill="#ff3232"/>
<rect x="521.84" y="157.1" width="10.85" height="21.3" fill="#ff3232"/>
<rect x="539.43" y="181.5" width="1.6" height="4.7" fill="#54ffff"/>
<rect x="534.81" y="163.4" width="10.85" height="18.1" fill="#54ffff"/>
<rect x="552.40" y="168.1" width="1.6" height="18.1" fill="#ff3232"/>
<rect x="552.40" y="190.5" width="1.6" height="4.4" fill="#ff3232"/>
<rect x="547.78" y="186.2" width="10.85" height="4.3" fill="#ff3232"/>
<rect x="565.37" y="183.9" width="1.6" height="7.8" fill="#54ffff"/>
<rect x="565.37" y="204.3" width="1.6" height="10.2" fill="#54ffff"/>
<rect x="560.74" y="191.7" width="10.85" height="12.6" fill="#54ffff"/>
<rect x="578.34" y="234.1" width="1.6" height="0.8" fill="#54ffff"/>
<rect x="578.34" y="297.0" width="1.6" height="29.9" fill="#54ffff"/>
<rect x="573.71" y="234.9" width="10.85" height="62.1" fill="#54ffff"/>
<rect x="591.30" y="282.1" width="1.6" height="8.9" fill="#ff3232"/>
<rect x="591.30" y="312.4" width="1.6" height="13.2" fill="#ff3232"/>
<rect x="586.68" y="291.0" width="10.85" height="21.4" fill="#ff3232"/>
<rect x="604.27" y="270.3" width="1.6" height="23.6" fill="#54ffff"/>
<rect x="604.27" y="322.1" width="1.6" height="3.2" fill="#54ffff"/>
<rect x="599.65" y="293.9" width="10.85" height="28.2" fill="#54ffff"/>
<rect x="617.24" y="310.8" width="1.6" height="1.1" fill="#ff3232"/>
<rect x="617.24" y="339.1" width="1.6" height="15.2" fill="#ff3232"/>
<rect x="612.62" y="311.9" width="10.85" height="27.2" fill="#ff3232"/>
<rect x="630.21" y="297.0" width="1.6" height="3.1" fill="#54ffff"/>
<rect x="630.21" y="336.3" width="1.6" height="1.2" fill="#54ffff"/>
<rect x="625.58" y="300.1" width="10.85" height="36.2" fill="#54ffff"/>
<rect x="643.18" y="343.8" width="1.6" height="4.3" fill="#ff3232"/>
<rect x="643.18" y="360.2" width="1.6" height="20.9" fill="#ff3232"/>
<rect x="638.55" y="348.1" width="10.85" height="12.1" fill="#ff3232"/>
<rect x="656.14" y="340.2" width="1.6" height="9.4" fill="#54ffff"/>
<rect x="656.14" y="373.2" width="1.6" height="12.1" fill="#54ffff"/>
<rect x="651.52" y="349.6" width="10.85" height="23.6" fill="#54ffff"/>
<rect x="669.11" y="363.0" width="1.6" height="21.2" fill="#54ffff"/>
<rect x="669.11" y="394.4" width="1.6" height="4.7" fill="#54ffff"/>
<rect x="664.49" y="384.2" width="10.85" height="10.2" fill="#54ffff"/>
<rect x="682.08" y="392.9" width="1.6" height="6.2" fill="#ff3232"/>
<rect x="677.46" y="346.5" width="10.85" height="46.4" fill="#ff3232"/>
<rect x="695.05" y="348.5" width="1.6" height="2.7" fill="#54ffff"/>
<rect x="695.05" y="405.1" width="1.6" height="15.3" fill="#54ffff"/>
<rect x="690.42" y="351.2" width="10.85" height="53.9" fill="#54ffff"/>
<rect x="708.02" y="405.1" width="1.6" height="42.0" fill="#ff3232"/>
<rect x="703.39" y="394.4" width="10.85" height="10.7" fill="#ff3232"/>
<rect x="720.99" y="390.5" width="1.6" height="13.0" fill="#54ffff"/>
<rect x="720.99" y="418.8" width="1.6" height="2.3" fill="#54ffff"/>
<rect x="716.36" y="403.5" width="10.85" height="15.3" fill="#54ffff"/>
<rect x="733.95" y="403.1" width="1.6" height="18.8" fill="#54ffff"/>
<rect x="733.95" y="438.4" width="1.6" height="4.0" fill="#54ffff"/>
<rect x="729.33" y="421.9" width="10.85" height="16.5" fill="#54ffff"/>
<rect x="746.92" y="410.1" width="1.6" height="17.6" fill="#ff3232"/>
<rect x="746.92" y="441.3" width="1.6" height="29.7" fill="#ff3232"/>
<rect x="742.30" y="427.7" width="10.85" height="13.6" fill="#ff3232"/>
<rect x="755.26" y="372.4" width="10.85" height="50.3" fill="#ff3232"/>
<rect x="772.86" y="368.8" width="1.6" height="14.9" fill="#ff3232"/>
<rect x="768.23" y="361.7" width="10.85" height="7.1" fill="#ff3232"/>
<rect x="785.83" y="388.4" width="1.6" height="12.1" fill="#54ffff"/>
<rect x="785.83" y="401.5" width="1.6" height="21.3" fill="#54ffff"/>
<rect x="781.20" y="400.5" width="10.85" height="1.6" fill="#54ffff"/>
<rect x="798.79" y="349.1" width="1.6" height="4.8" fill="#ff3232"/>
<rect x="794.17" y="353.9" width="10.85" height="54.2" fill="#ff3232"/>
<rect x="811.76" y="355.4" width="1.6" height="3.6" fill="#54ffff"/>
<rect x="811.76" y="360.0" width="1.6" height="9.6" fill="#54ffff"/>
<rect x="807.14" y="359.0" width="10.85" height="1.6" fill="#54ffff"/>
<rect x="824.73" y="353.9" width="1.6" height="10.2" fill="#54ffff"/>
<rect x="824.73" y="372.7" width="1.6" height="7.9" fill="#54ffff"/>
<rect x="820.10" y="364.1" width="10.85" height="8.6" fill="#54ffff"/>
<rect x="837.70" y="385.0" width="1.6" height="19.9" fill="#54ffff"/>
<rect x="833.07" y="379.8" width="10.85" height="5.2" fill="#54ffff"/>
<rect x="850.66" y="369.6" width="1.6" height="13.3" fill="#54ffff"/>
<rect x="850.66" y="394.4" width="1.6" height="1.9" fill="#54ffff"/>
<rect x="846.04" y="382.9" width="10.85" height="11.5" fill="#54ffff"/>
<rect x="863.63" y="383.7" width="1.6" height="8.2" fill="#54ffff"/>
<rect x="863.63" y="405.7" width="1.6" height="8.6" fill="#54ffff"/>
<rect x="859.01" y="391.9" width="10.85" height="13.8" fill="#54ffff"/>
<rect x="876.60" y="353.9" width="1.6" height="7.8" fill="#ff3232"/>
<rect x="876.60" y="409.6" width="1.6" height="12.1" fill="#ff3232"/>
<rect x="871.98" y="361.7" width="10.85" height="47.9" fill="#ff3232"/>
<rect x="889.57" y="333.4" width="1.6" height="2.4" fill="#ff3232"/>
<rect x="884.94" y="335.8" width="10.85" height="36.1" fill="#ff3232"/>
<rect x="902.54" y="294.1" width="1.6" height="4.4" fill="#ff3232"/>
<rect x="897.91" y="298.5" width="10.85" height="35.7" fill="#ff3232"/>
<rect x="915.50" y="299.6" width="1.6" height="7.9" fill="#54ffff"/>
<rect x="910.88" y="293.8" width="10.85" height="5.8" fill="#54ffff"/>
<rect x="928.47" y="291.0" width="1.6" height="7.5" fill="#54ffff"/>
<rect x="928.47" y="317.7" width="1.6" height="4.7" fill="#54ffff"/>
<rect x="923.85" y="298.5" width="10.85" height="19.2" fill="#54ffff"/>
<rect x="941.44" y="312.2" width="1.6" height="7.9" fill="#54ffff"/>
<rect x="941.44" y="324.8" width="1.6" height="7.8" fill="#54ffff"/>
<rect x="936.82" y="320.1" width="10.85" height="4.7" fill="#54ffff"/>
<rect x="954.41" y="305.9" width="1.6" height="20.4" fill="#54ffff"/>
<rect x="954.41" y="327.3" width="1.6" height="15.6" fill="#54ffff"/>
<rect x="949.78" y="326.3" width="10.85" height="1.6" fill="#54ffff"/>
<rect x="967.38" y="317.7" width="1.6" height="5.5" fill="#ff3232"/>
<rect x="967.38" y="329.5" width="1.6" height="9.4" fill="#ff3232"/>
<rect x="962.75" y="323.2" width="10.85" height="6.3" fill="#ff3232"/>
<rect x="980.35" y="305.9" width="1.6" height="12.1" fill="#54ffff"/>
<rect x="975.72" y="318.0" width="10.85" height="46.1" fill="#54ffff"/>
<rect x="993.31" y="411.0" width="1.6" height="33.5" fill="#54ffff"/>
<rect x="988.69" y="372.2" width="10.85" height="38.8" fill="#54ffff"/>
<rect x="1006.28" y="402.1" width="1.6" height="12.1" fill="#54ffff"/>
<rect x="1001.66" y="414.2" width="10.85" height="19.3" fill="#54ffff"/>
<rect x="1019.25" y="417.0" width="1.6" height="19.6" fill="#54ffff"/>
<rect x="1019.25" y="462.3" width="1.6" height="10.5" fill="#54ffff"/>
<rect x="1014.62" y="436.6" width="10.85" height="25.7" fill="#54ffff"/>
<rect x="1032.22" y="456.3" width="1.6" height="13.3" fill="#ff3232"/>
<rect x="1027.59" y="402.1" width="10.85" height="54.2" fill="#ff3232"/>
<rect x="1045.18" y="400.5" width="1.6" height="7.4" fill="#54ffff"/>
<rect x="1040.56" y="407.9" width="10.85" height="22.9" fill="#54ffff"/>
<rect x="1058.15" y="382.4" width="1.6" height="6.6" fill="#ff3232"/>
<rect x="1053.53" y="389.0" width="10.85" height="53.9" fill="#ff3232"/>
<rect x="1071.12" y="380.1" width="1.6" height="9.4" fill="#ff3232"/>
<rect x="1071.12" y="391.0" width="1.6" height="12.6" fill="#ff3232"/>
<rect x="1066.50" y="389.5" width="10.85" height="1.6" fill="#ff3232"/>
<rect x="1084.09" y="393.4" width="1.6" height="2.9" fill="#ff3232"/>
<rect x="1084.09" y="409.1" width="1.6" height="22.8" fill="#ff3232"/>
<rect x="1079.46" y="396.3" width="10.85" height="12.8" fill="#ff3232"/>
<rect x="1097.06" y="393.4" width="1.6" height="6.6" fill="#ff3232"/>
<rect x="1097.06" y="401.0" width="1.6" height="11.3" fill="#ff3232"/>
<rect x="1092.43" y="400.0" width="10.85" height="1.6" fill="#ff3232"/>
<rect x="1110.02" y="447.6" width="1.6" height="0.8" fill="#54ffff"/>
<rect x="1105.40" y="403.6" width="10.85" height="44.0" fill="#54ffff"/>
<rect x="1122.99" y="439.7" width="1.6" height="22.3" fill="#ff3232"/>
<rect x="1122.99" y="472.7" width="1.6" height="14.9" fill="#ff3232"/>
<rect x="1118.37" y="462.0" width="10.85" height="10.7" fill="#ff3232"/>
<rect x="1135.96" y="441.3" width="1.6" height="6.0" fill="#54ffff"/>
<rect x="1135.96" y="490.8" width="1.6" height="1.6" fill="#54ffff"/>
<rect x="1131.34" y="447.3" width="10.85" height="43.5" fill="#54ffff"/>
<rect x="1148.93" y="487.6" width="1.6" height="16.5" fill="#ff3232"/>
<rect x="1144.30" y="466.7" width="10.85" height="20.9" fill="#ff3232"/>
<rect x="1161.90" y="434.2" width="1.6" height="3.9" fill="#ff3232"/>
<rect x="1161.90" y="464.9" width="1.6" height="4.7" fill="#ff3232"/>
<rect x="1157.27" y="438.1" width="10.85" height="26.8" fill="#ff3232"/>
<rect x="1174.86" y="454.2" width="1.6" height="5.2" fill="#54ffff"/>
<rect x="1170.24" y="439.4" width="10.85" height="14.8" fill="#54ffff"/>
<rect x="1187.83" y="436.6" width="1.6" height="9.1" fill="#ff3232"/>
<rect x="1187.83" y="455.1" width="1.6" height="10.5" fill="#ff3232"/>
<rect x="1183.21" y="445.7" width="10.85" height="9.4" fill="#ff3232"/>
<rect x="1200.80" y="426.4" width="1.6" height="16.5" fill="#ff3232"/>
<rect x="1200.80" y="451.5" width="1.6" height="11.0" fill="#ff3232"/>
<rect x="1196.18" y="442.9" width="10.85" height="8.6" fill="#ff3232"/>
<rect x="1209.14" y="400.4" width="10.85" height="36.2" fill="#ff3232"/>
<rect x="1226.74" y="393.4" width="1.6" height="6.5" fill="#54ffff"/>
<rect x="1226.74" y="400.9" width="1.6" height="8.2" fill="#54ffff"/>
<rect x="1222.11" y="399.9" width="10.85" height="1.6" fill="#54ffff"/>
<rect x="1239.70" y="402.0" width="1.6" height="3.5" fill="#54ffff"/>
<rect x="1239.70" y="409.1" width="1.6" height="6.3" fill="#54ffff"/>
<rect x="1235.08" y="405.5" width="10.85" height="3.6" fill="#54ffff"/>
<rect x="1252.67" y="400.4" width="1.6" height="9.1" fill="#54ffff"/>
<rect x="1252.67" y="435.3" width="1.6" height="1.3" fill="#54ffff"/>
<rect x="1248.05" y="409.5" width="10.85" height="25.8" fill="#54ffff"/>
<rect x="1265.64" y="428.7" width="1.6" height="12.6" fill="#54ffff"/>
<rect x="1265.64" y="445.7" width="1.6" height="12.1" fill="#54ffff"/>
<rect x="1261.02" y="441.3" width="10.85" height="4.4" fill="#54ffff"/>
<rect x="1278.61" y="447.6" width="1.6" height="0.8" fill="#ff3232"/>
<rect x="1278.61" y="453.1" width="1.6" height="19.6" fill="#ff3232"/>
<rect x="1273.98" y="448.4" width="10.85" height="4.7" fill="#ff3232"/>
<rect x="1291.58" y="420.1" width="1.6" height="4.7" fill="#ff3232"/>
<rect x="1291.58" y="448.8" width="1.6" height="7.4" fill="#ff3232"/>
<rect x="1286.95" y="424.8" width="10.85" height="24.0" fill="#ff3232"/>
<rect x="1304.54" y="429.5" width="1.6" height="3.1" fill="#54ffff"/>
<rect x="1299.92" y="432.6" width="10.85" height="29.4" fill="#54ffff"/>
<rect x="1317.51" y="451.5" width="1.6" height="17.3" fill="#54ffff"/>
<rect x="1317.51" y="472.4" width="1.6" height="6.6" fill="#54ffff"/>
<rect x="1312.89" y="468.8" width="10.85" height="3.6" fill="#54ffff"/>
<rect x="1330.48" y="442.1" width="1.6" height="22.0" fill="#ff3232"/>
<rect x="1330.48" y="468.3" width="1.6" height="10.7" fill="#ff3232"/>
<rect x="1325.86" y="464.1" width="10.85" height="4.2" fill="#ff3232"/>
<rect x="1343.45" y="465.6" width="1.6" height="2.4" fill="#54ffff"/>
<rect x="1338.82" y="468.0" width="10.85" height="22.8" fill="#54ffff"/>
<rect x="1356.42" y="482.1" width="1.6" height="10.2" fill="#54ffff"/>
<rect x="1356.42" y="493.3" width="1.6" height="10.8" fill="#54ffff"/>
<rect x="1351.79" y="492.3" width="10.85" height="1.6" fill="#54ffff"/>
<rect x="1369.38" y="489.3" width="1.6" height="9.6" fill="#54ffff"/>
<rect x="1369.38" y="499.9" width="1.6" height="8.3" fill="#54ffff"/>
<rect x="1364.76" y="498.9" width="10.85" height="1.6" fill="#54ffff"/>
<rect x="1382.35" y="474.5" width="1.6" height="2.7" fill="#ff3232"/>
<rect x="1382.35" y="483.0" width="1.6" height="21.1" fill="#ff3232"/>
<rect x="1377.73" y="477.2" width="10.85" height="5.8" fill="#ff3232"/>
<rect x="1395.32" y="469.8" width="1.6" height="5.7" fill="#54ffff"/>
<rect x="1395.32" y="481.6" width="1.6" height="4.4" fill="#54ffff"/>
<rect x="1390.70" y="475.5" width="10.85" height="6.1" fill="#54ffff"/>
<rect x="1408.29" y="505.5" width="1.6" height="3.3" fill="#54ffff"/>
<rect x="1403.66" y="490.0" width="10.85" height="15.5" fill="#54ffff"/>
<rect x="1421.26" y="465.1" width="1.6" height="1.3" fill="#ff3232"/>
<rect x="1416.63" y="466.4" width="10.85" height="45.1" fill="#ff3232"/>
<polyline points="8.6,79.9 21.5,84 30.5,99.3 52,128 75.4,148.7 86.2,154.6 102.4,142.7 111.4,139.7 125.7,147.8 150,143.3 163.3,147.6 175.9,152.1 193.9,138.6 208.2,123.4 222.6,111.7 240.6,93.7 256.7,85.7 272.9,81.7 283.6,82.4 300,83 317,73.1 334.9,69.5 358.2,69.5 372.6,76.7 379.8,83.9 390.6,96.4 399.5,107.2 408.5,125.2 419.3,134.1 433.7,144.9 449.4,153.2 461.2,155.6 474.6,143 487.1,139.1 499.7,141.4 515.4,147.7 529.6,155.6 540.6,166.6 553.1,176 566.7,182 581.5,222.4 597.7,249.3 613.9,281.6 630,311.2 640.8,324.7 654.3,338.2 673.1,357 697.6,375.6 718,389.7 733.7,400.7 749.4,417.2 760,410.4 775.7,404.1 788.3,399.4 799.3,386.9 812.6,371.1 826,371.9 838.6,375.1 851.1,374.3 862.1,383.7 877.9,383.7 888.9,379 900,364.9 905.7,357 921.4,331.9 937.1,317.7 952.9,313.8 968.6,320.9 978,330.3 990.6,346 1003.1,368 1017.7,398.1 1027.1,409.1 1044.4,428.8 1055.4,424.9 1068,417 1083.7,401.3 1099.4,401.3 1112,404.4 1120,415.4 1128.3,427.1 1139.3,442.9 1151.9,455.4 1162.9,460.9 1175.4,462.5 1188,460.1 1200.6,452.3 1210,442.9 1222.6,433.4 1240.7,421.2 1256.4,419.3 1265.9,419.3 1276.9,427.1 1287.9,431.9 1306.7,446 1319.3,452.3 1331.9,456.2 1344.4,463.3 1357.5,478.5 1370.4,484.6 1383.8,486.6 1397.3,490 1408.1,492.7 1420.2,486.6" fill="none" stroke="#f0f0f0" stroke-width="1.3" stroke-linejoin="round"/>
<polyline points="8.6,89.4 25.1,97.5 46.7,108.3 61.1,111.9 75.4,115.4 86.2,120.8 100.6,126.2 115,135.2 125.7,143.3 136.5,146.9 150,148.7 161.5,147.6 185,145 193.9,142.2 215.4,130.6 240.6,123.4 269.3,103.6 294.4,93.7 300.8,89.3 313.3,81.2 331.3,75.8 349.3,75.8 367.2,77.6 383.4,82.1 397.7,88.4 406.7,96.4 424.7,107.2 440,116 460.4,128.9 487.1,139.9 528,154 560,160.4 566.7,163.1 576.2,176.6 586.9,190 597.7,203.5 611.2,222.4 627.3,241.2 646.2,265.5 662.4,289.7 675.8,308.6 689.3,330.1 700.1,343.6 716.2,360 727.4,370.9 747.2,389.1 756.1,391.3 765.8,392.7 777.2,394.4 787.8,397.6 793.5,393.5 800,392.7 810,393.8 822,392.3 840.5,390.7 854.3,386.9 870,380.6 885.7,375.1 900,368 915.1,358.6 937.1,352.3 960.7,342.9 976.4,336.6 992.1,336.6 1003.1,342.1 1015.7,355.4 1030,365.6 1038.1,373 1047.6,381.6 1066.4,388.7 1086.8,401.3 1099.4,409.1 1120,420.1 1131.4,425.6 1147.1,428.7 1162.9,431.9 1178.6,435 1194.3,442.9 1210,444.4 1225.7,446 1240,441.3 1256.4,436.6 1272.1,432.6 1287.9,431.9 1303.6,433.4 1319.3,435.8 1331.9,437.4 1342.9,446 1356.9,456.3 1370.4,465.1 1383.8,469.8 1397.3,473.8 1410.8,478.5 1420.2,482.2" fill="none" stroke="#ffff00" stroke-width="1.3" stroke-linejoin="round"/>
<polyline points="8.6,66 27,75 53.9,92.1 71.9,102.9 86.2,111.9 100.6,112.7 115,113.6 125.7,116.3 150,122.6 170.5,127 222.6,127 255,128.4 269.3,126 300,118 313.7,113 332.8,106.8 340.6,105.1 351.9,101.2 367.6,101.2 381,97.8 403.5,96.7 420,98.4 430,99.1 450,101.5 495,110 521.7,119.4 550,128.9 560,133.5 566.7,136.2 586.9,155 608.5,175.2 624.6,190 640.8,206.2 659.7,222.4 675.8,234.5 689.3,246.6 702.8,258.7 713.5,269.5 727,285.7 740.5,300.5 753.9,313.9 770.1,327.4 786.3,340.9 799.3,350.7 822.9,365.6 846.4,374.3 862.1,382.1 877.9,382.9 900,381.4 905.7,380.6 929.3,374.3 952.9,368 976.4,362.5 992.1,360.9 1007.9,361.7 1030,367.2 1058.6,371.4 1090,373.8 1120,379.3 1147.1,391 1170.7,403.6 1194.3,415.4 1210,421.6 1225.7,426.4 1240.7,428.7 1256.4,430.3 1272.1,430 1287.9,431.1 1303.6,433.4 1319.3,438.1 1335,442.9 1350.7,448.4 1367.7,453.6 1402.7,454.3 1420.2,457" fill="none" stroke="#ff00ff" stroke-width="1.3" stroke-linejoin="round"/>
<polyline points="1032.8,42.8 1133.7,56.1 1218.9,67.5 1304.2,80.6 1420.7,99.6" fill="none" stroke="#00e000" stroke-width="1.3" stroke-linejoin="round"/>
<rect x="3.12" y="631.7" width="10.85" height="81.3" fill="#54ffff"/>
<rect x="16.09" y="616.8" width="10.85" height="96.2" fill="#54ffff"/>
<rect x="29.06" y="619.5" width="10.85" height="93.5" fill="#54ffff"/>
<rect x="42.02" y="612.1" width="10.85" height="100.9" fill="#54ffff"/>
<rect x="54.99" y="612.1" width="10.85" height="100.9" fill="#ff3232"/>
<rect x="67.96" y="615.0" width="10.85" height="98.0" fill="#54ffff"/>
<rect x="80.93" y="630.0" width="10.85" height="83.0" fill="#ff3232"/>
<rect x="93.90" y="610.6" width="10.85" height="102.4" fill="#ff3232"/>
<rect x="106.86" y="633.0" width="10.85" height="80.0" fill="#ff3232"/>
<rect x="119.83" y="628.7" width="10.85" height="84.3" fill="#54ffff"/>
<rect x="132.80" y="630.0" width="10.85" height="83.0" fill="#54ffff"/>
<rect x="145.77" y="628.6" width="10.85" height="84.4" fill="#54ffff"/>
<rect x="158.74" y="623.8" width="10.85" height="89.2" fill="#ff3232"/>
<rect x="171.70" y="637.6" width="10.85" height="75.4" fill="#54ffff"/>
<rect x="184.67" y="628.0" width="10.85" height="85.0" fill="#ff3232"/>
<rect x="197.64" y="619.8" width="10.85" height="93.2" fill="#ff3232"/>
<rect x="210.61" y="636.0" width="10.85" height="77.0" fill="#54ffff"/>
<rect x="223.58" y="630.6" width="10.85" height="82.4" fill="#ff3232"/>
<rect x="236.54" y="629.9" width="10.85" height="83.1" fill="#54ffff"/>
<rect x="249.51" y="631.7" width="10.85" height="81.3" fill="#ff3232"/>
<rect x="262.48" y="634.7" width="10.85" height="78.3" fill="#ff3232"/>
<rect x="275.45" y="632.6" width="10.85" height="80.4" fill="#54ffff"/>
<rect x="288.42" y="640.7" width="10.85" height="72.3" fill="#54ffff"/>
<rect x="301.38" y="627.2" width="10.85" height="85.8" fill="#ff3232"/>
<rect x="314.35" y="609.2" width="10.85" height="103.8" fill="#ff3232"/>
<rect x="327.32" y="622.7" width="10.85" height="90.3" fill="#ff3232"/>
<rect x="340.29" y="613.7" width="10.85" height="99.3" fill="#54ffff"/>
<rect x="353.26" y="634.7" width="10.85" height="78.3" fill="#54ffff"/>
<rect x="366.22" y="631.7" width="10.85" height="81.3" fill="#54ffff"/>
<rect x="379.19" y="631.7" width="10.85" height="81.3" fill="#54ffff"/>
<rect x="392.16" y="628.3" width="10.85" height="84.7" fill="#54ffff"/>
<rect x="405.13" y="615.2" width="10.85" height="97.8" fill="#54ffff"/>
<rect x="418.10" y="625.6" width="10.85" height="87.4" fill="#ff3232"/>
<rect x="431.06" y="631.7" width="10.85" height="81.3" fill="#54ffff"/>
<rect x="444.03" y="640.9" width="10.85" height="72.1" fill="#ff3232"/>
<rect x="457.00" y="637.8" width="10.85" height="75.2" fill="#ff3232"/>
<rect x="469.97" y="637.8" width="10.85" height="75.2" fill="#ff3232"/>
<rect x="482.94" y="631.0" width="10.85" height="82.0" fill="#54ffff"/>
<rect x="495.90" y="629.0" width="10.85" height="84.0" fill="#54ffff"/>
<rect x="508.87" y="643.9" width="10.85" height="69.1" fill="#54ffff"/>
<rect x="521.84" y="640.9" width="10.85" height="72.1" fill="#ff3232"/>
<rect x="534.81" y="635.1" width="10.85" height="77.9" fill="#54ffff"/>
<rect x="547.78" y="638.5" width="10.85" height="74.5" fill="#ff3232"/>
<rect x="560.74" y="621.2" width="10.85" height="91.8" fill="#54ffff"/>
<rect x="573.71" y="568.8" width="10.85" height="144.2" fill="#54ffff"/>
<rect x="586.68" y="622.6" width="10.85" height="90.4" fill="#ff3232"/>
<rect x="599.65" y="614.5" width="10.85" height="98.5" fill="#54ffff"/>
<rect x="612.62" y="633.0" width="10.85" height="80.0" fill="#ff3232"/>
<rect x="625.58" y="636.2" width="10.85" height="76.8" fill="#54ffff"/>
<rect x="638.55" y="633.0" width="10.85" height="80.0" fill="#ff3232"/>
<rect x="651.52" y="631.4" width="10.85" height="81.6" fill="#54ffff"/>
<rect x="664.49" y="637.5" width="10.85" height="75.5" fill="#54ffff"/>
<rect x="677.46" y="633.5" width="10.85" height="79.5" fill="#ff3232"/>
<rect x="690.42" y="627.4" width="10.85" height="85.6" fill="#54ffff"/>
<rect x="703.39" y="622.6" width="10.85" height="90.4" fill="#ff3232"/>
<rect x="716.36" y="634.1" width="10.85" height="78.9" fill="#54ffff"/>
<rect x="729.33" y="632.1" width="10.85" height="80.9" fill="#54ffff"/>
<rect x="742.30" y="627.4" width="10.85" height="85.6" fill="#ff3232"/>
<rect x="755.26" y="636.2" width="10.85" height="76.8" fill="#ff3232"/>
<rect x="768.23" y="638.9" width="10.85" height="74.1" fill="#ff3232"/>
<rect x="781.20" y="633.7" width="10.85" height="79.3" fill="#54ffff"/>
<rect x="794.17" y="619.5" width="10.85" height="93.5" fill="#ff3232"/>
<rect x="807.14" y="639.2" width="10.85" height="73.8" fill="#54ffff"/>
<rect x="820.10" y="645.0" width="10.85" height="68.0" fill="#54ffff"/>
<rect x="833.07" y="646.6" width="10.85" height="66.4" fill="#54ffff"/>
<rect x="846.04" y="636.9" width="10.85" height="76.1" fill="#54ffff"/>
<rect x="859.01" y="640.1" width="10.85" height="72.9" fill="#54ffff"/>
<rect x="871.98" y="621.2" width="10.85" height="91.8" fill="#ff3232"/>
<rect x="884.94" y="604.7" width="10.85" height="108.3" fill="#ff3232"/>
<rect x="897.91" y="568.8" width="10.85" height="144.2" fill="#ff3232"/>
<rect x="910.88" y="607.6" width="10.85" height="105.4" fill="#54ffff"/>
<rect x="923.85" y="607.6" width="10.85" height="105.4" fill="#54ffff"/>
<rect x="936.82" y="620.9" width="10.85" height="92.1" fill="#54ffff"/>
<rect x="949.78" y="617.5" width="10.85" height="95.5" fill="#54ffff"/>
<rect x="962.75" y="637.5" width="10.85" height="75.5" fill="#ff3232"/>
<rect x="975.72" y="617.9" width="10.85" height="95.1" fill="#54ffff"/>
<rect x="988.69" y="603.0" width="10.85" height="110.0" fill="#54ffff"/>
<rect x="1001.66" y="633.0" width="10.85" height="80.0" fill="#54ffff"/>
<rect x="1014.62" y="631.7" width="10.85" height="81.3" fill="#54ffff"/>
<rect x="1027.59" y="618.6" width="10.85" height="94.4" fill="#ff3232"/>
<rect x="1040.56" y="619.9" width="10.85" height="93.1" fill="#54ffff"/>
<rect x="1053.53" y="618.2" width="10.85" height="94.8" fill="#ff3232"/>
<rect x="1066.50" y="636.2" width="10.85" height="76.8" fill="#ff3232"/>
<rect x="1079.46" y="631.7" width="10.85" height="81.3" fill="#ff3232"/>
<rect x="1092.43" y="643.6" width="10.85" height="69.4" fill="#ff3232"/>
<rect x="1105.40" y="638.9" width="10.85" height="74.1" fill="#54ffff"/>
<rect x="1118.37" y="636.2" width="10.85" height="76.8" fill="#ff3232"/>
<rect x="1131.34" y="642.0" width="10.85" height="71.0" fill="#54ffff"/>
<rect x="1144.30" y="642.0" width="10.85" height="71.0" fill="#ff3232"/>
<rect x="1157.27" y="641.3" width="10.85" height="71.7" fill="#ff3232"/>
<rect x="1170.24" y="652.5" width="10.85" height="60.5" fill="#54ffff"/>
<rect x="1183.21" y="649.8" width="10.85" height="63.2" fill="#ff3232"/>
<rect x="1196.18" y="649.8" width="10.85" height="63.2" fill="#ff3232"/>
<rect x="1209.14" y="628.7" width="10.85" height="84.3" fill="#ff3232"/>
<rect x="1222.11" y="637.9" width="10.85" height="75.1" fill="#54ffff"/>
<rect x="1235.08" y="649.8" width="10.85" height="63.2" fill="#54ffff"/>
<rect x="1248.05" y="643.3" width="10.85" height="69.7" fill="#54ffff"/>
<rect x="1261.02" y="644.7" width="10.85" height="68.3" fill="#54ffff"/>
<rect x="1273.98" y="648.0" width="10.85" height="65.0" fill="#ff3232"/>
<rect x="1286.95" y="644.0" width="10.85" height="69.0" fill="#ff3232"/>
<rect x="1299.92" y="645.7" width="10.85" height="67.3" fill="#54ffff"/>
<rect x="1312.89" y="649.8" width="10.85" height="63.2" fill="#54ffff"/>
<rect x="1325.86" y="645.0" width="10.85" height="68.0" fill="#ff3232"/>
<rect x="1338.82" y="646.5" width="10.85" height="66.5" fill="#54ffff"/>
<rect x="1351.79" y="648.8" width="10.85" height="64.2" fill="#54ffff"/>
<rect x="1364.76" y="655.9" width="10.85" height="57.1" fill="#54ffff"/>
<rect x="1377.73" y="645.5" width="10.85" height="67.5" fill="#ff3232"/>
<rect x="1390.70" y="650.3" width="10.85" height="62.7" fill="#54ffff"/>
<rect x="1403.66" y="657.2" width="10.85" height="55.8" fill="#54ffff"/>
<rect x="1416.63" y="639.4" width="10.85" height="73.6" fill="#ff3232"/>
<polyline points="8.1,617.1 27,618.4 40.6,620 54.1,619.1 70.4,616 86.6,618.7 101.5,617.7 121.8,623.2 135.3,626.3 152.9,626.5 162.4,629.2 171.9,630.9 182.7,630.6 195.4,627.9 208.9,629.2 222.5,630.3 257.7,630.3 265.8,632.6 284.7,633 309.1,633.3 317.2,629.2 325.3,627.6 333.4,625.9 340.2,623.6 352.4,621.8 364.6,622.5 374,623.8 380.8,627.2 404.4,629.7 416.5,627 439.5,626.3 447.7,628.3 455.8,629.7 466.6,632.4 474.7,635.1 482.8,636.9 495,635.1 507.2,636.5 532.9,636.9 546.4,638.2 558.6,638.2 569.4,630.4 575.4,623.3 583.5,620.3 593,619.2 602.5,614.9 614.7,612.5 624.1,613.8 630.9,615.9 637.7,623 643.1,629 653.9,631.2 667.4,635.2 687.7,634.8 699.9,633.5 709.4,630.7 718.8,632.1 739.2,631.4 748.6,629 759.4,631.2 770.8,633.7 792.5,633.1 793.8,631 804.7,631 819.5,634.4 833.1,636.9 846.6,638.5 857.4,639.8 864.2,641.5 872.3,639.2 877.7,637.8 889.9,631 896.7,622.2 903.4,614.1 910.2,611.4 922.4,606 930.5,602.6 944,602.6 954.5,605 966.7,617.2 974.8,619 999.1,620.6 1004.5,623 1015.4,624.7 1022.1,624.7 1028.9,622.2 1039.7,621.7 1053.3,623 1064.1,624.7 1079,626 1088.4,627.6 1104.7,632.1 1115.5,635.2 1120.9,638.2 1131.7,639.5 1144.5,641.7 1166.1,642 1172.9,644.4 1183.7,646 1195.9,647.4 1208.1,646 1221.6,643.6 1232.4,644 1248.7,643 1259.5,641.3 1270.3,643 1275.7,645.3 1287.9,647.4 1311.4,647.7 1336.9,647.4 1350.2,646.9 1352.1,648.6 1362.5,648.8 1365.4,650.5 1375.8,650.7 1377.2,648.8 1388.1,648.4 1390,650.3 1402.3,650.3 1404.2,651.7 1414.6,651.7 1416.5,650.3 1420.3,650.3" fill="none" stroke="#f0f0f0" stroke-width="1.3" stroke-linejoin="round"/>
<polyline points="8.1,615.7 27,616 40.6,617.7 81.2,617.7 101.5,617.7 108.3,620 119.1,621.4 143.4,622.5 166.4,624.1 173.2,626.3 190,626.5 222.5,628.6 260.4,629.9 265.8,631.3 284.7,631.3 301,632 309.1,630.3 325.3,629.2 338.8,629.2 342.9,627.9 380,627.7 403,627.7 407.1,626.3 439.5,625 445,627.7 455.8,628.3 466.6,630.4 474.7,632.4 482.8,631 505.8,631 509.9,632.4 520.7,632.8 522.1,633.7 534.3,634.2 547.8,636.9 566.7,637.1 572.2,631.7 578.1,630.7 586.2,627.6 610.6,626.7 649.8,626 651.2,624.7 675.5,624 678.3,623 687.7,623.6 699.9,626 705.3,628.7 716.1,631.2 770.8,633.1 792.5,632.8 819.5,633.7 833.1,635.5 857.4,636.9 876.4,636.9 887.2,633.1 902.1,626.3 915.6,623.6 929.2,622.2 946.7,619.5 953.1,617.2 972.1,616.5 982.9,615.2 991,611.8 1000.5,611.8 1010,613.6 1023.5,617.2 1031.6,620.3 1042.4,622 1064.1,623 1080.3,624.7 1104.7,627.4 1118.2,629.8 1135,632.2 1143.1,633.8 1155.3,633.8 1162.1,635.5 1172.9,639.2 1186.4,642.6 1197.2,644.4 1208.1,644.4 1210.8,643 1232.4,644 1273,645.3 1285.2,645.7 1300,644.6 1337.9,644.3 1339.8,645.8 1350.2,646.5 1351.2,647.7 1363.5,647.7 1365.4,648.8 1375.8,648.8 1377.2,647.7 1388.1,647.9 1390,649 1420.3,649" fill="none" stroke="#ffff00" stroke-width="1.3" stroke-linejoin="round"/>
<polyline points="8.9,806.3 19.8,812.2 34.6,819.7 47.4,826.1 59.3,828.0 71.1,831.2 85.0,835.2 98.8,834.6 112.6,832.0 126.5,831.6 138.3,830.6 151.2,828.6 163.0,824.7 175.9,822.7 189.8,814.4 200.0,805.9 202.6,803.2 215.3,796.8 228.8,789.6 242.4,785.1 255.0,781.5 267.7,777.0 280.3,776.6 293.9,777.9 305.6,777.3 318.3,776.1 332.7,774.8 345.4,780.6 358.0,791.4 370.7,804.1 380.0,810.4 390.0,818.5 398.1,822.1 411.6,833.9 423.4,838.4 436.0,841.1 448.7,841.1 463.1,837.5 475.8,832.1 488.4,825.8 502.9,823.9 514.6,827.6 527.2,827.6 539.0,830.3 553.4,833.0 566.1,837.5 570.0,839.3 580.0,842.5 591.7,843.8 604.3,848.3 617.9,850.1 629.6,851.4 642.3,852.0 654.9,853.2 669.4,856.1 682.0,854.3 694.7,854.3 710.0,851.4 720.0,849.2 734.4,850.7 746.2,849.2 757.9,841.1 760.0,841.1 770.0,833.0 773.5,829.4 787.1,823.0 798.8,813.5 812.4,805.0 825.0,797.8 837.7,794.1 850.3,792.3 863.9,799.0 875.6,798.7 889.2,794.7 902.7,789.6 917.2,785.1 929.8,782.4 942.5,782.4 950.0,782.4 960.0,782.8 969.9,785.1 992.5,794.1 1004.2,804.1 1019.6,818.5 1032.2,824.3 1044.9,829.0 1058.4,829.4 1072.0,827.2 1084.6,825.4 1097.8,821.2 1110.8,821.2 1124.3,823.0 1136.1,829.0 1140.0,829.4 1150.0,832.4 1161.7,832.1 1175.2,829.7 1188.8,826.7 1201.4,823.6 1215.9,812.2 1227.6,805.5 1240.3,800.5 1253.8,797.8 1266.5,800.8 1280.0,804.4 1292.7,808.0 1305.3,814.0 1318.0,820.3 1320.0,822.6 1329.3,827.2 1336.8,832.7 1340.0,834.4 1344.7,837.1 1353.7,840.5 1362.7,843.9 1369.4,847.3 1376.1,847.3 1382.9,847.3 1391.8,845.9 1398.6,845.6 1405.3,847.3 1412.1,847.3 1416.5,844.4 1420.5,842.5" fill="none" stroke="#ffff00" stroke-width="1.3" stroke-linejoin="round"/>
<polyline points="8.9,802.0 19.8,817.8 34.6,836.5 47.4,836.5 59.3,832.0 71.1,837.1 86.0,844.4 98.8,831.6 112.6,827.6 126.5,829.6 138.3,827.6 151.2,826.1 163.0,818.8 175.9,816.8 189.8,797.9 200.4,789.2 215.3,782.4 228.8,774.8 242.4,774.3 255.0,771.9 267.7,768.8 280.3,773.0 293.9,782.4 305.6,774.3 318.3,773.0 332.7,771.9 345.4,786.0 358.0,813.1 370.7,827.6 380.0,833.0 390.0,838.4 398.1,842.0 411.6,852.0 423.4,847.1 436.0,847.1 448.7,842.9 463.1,829.4 475.8,820.3 488.4,814.0 502.9,823.9 514.6,832.6 527.2,828.5 539.0,836.6 553.4,842.9 566.1,847.8 570.0,847.1 580.0,848.6 591.7,850.1 604.3,854.7 617.9,851.4 629.6,854.7 642.3,853.8 654.9,856.5 669.4,860.4 682.0,852.0 694.7,852.5 710.0,848.3 720.0,847.1 734.4,852.9 746.2,847.4 757.9,827.6 760.0,825.8 770.0,811.3 773.5,807.7 787.1,808.0 798.8,793.2 812.4,786.0 825.0,783.8 837.7,786.9 850.3,790.5 863.9,809.5 875.6,801.4 889.2,790.5 902.7,778.8 917.2,774.8 929.8,777.3 942.5,781.5 950.0,782.8 955.1,783.8 960.0,783.8 968.1,786.0 986.1,803.2 995.2,814.0 1007.8,830.3 1020.5,839.3 1033.1,834.8 1044.9,838.0 1058.4,830.8 1072.0,824.3 1084.6,823.0 1097.8,812.7 1110.8,821.2 1124.3,828.5 1136.1,841.1 1140.0,840.6 1150.0,839.3 1161.7,830.3 1175.2,828.5 1188.8,822.5 1201.4,818.2 1215.9,796.8 1227.6,789.6 1240.3,785.6 1253.8,791.4 1266.5,807.7 1280.0,817.1 1292.7,812.7 1305.3,827.6 1318.0,837.5 1320.0,838.8 1326.7,841.1 1329.7,841.7 1334.6,844.4 1340.0,847.4 1342.5,849.5 1353.7,853.1 1362.7,854.5 1369.4,856.2 1376.1,852.6 1382.9,847.3 1389.6,844.4 1396.3,842.2 1403.1,845.6 1409.8,848.4 1413.2,844.4 1416.5,839.4 1420.5,833.8" fill="none" stroke="#f0f0f0" stroke-width="1.3" stroke-linejoin="round"/>
<polyline points="8.9,797.0 12.8,804.9 21.5,845.0 34.6,868.8 47.4,860.3 59.3,841.1 65.2,846.4 74.1,853.3 86.0,858.9 98.8,828.6 112.6,817.4 126.5,827.6 136.4,821.7 151.2,819.7 163.0,803.5 175.9,806.3 189.8,767.1 200.0,754.5 202.6,752.6 215.3,749.0 227.9,744.8 241.5,753.5 253.2,757.1 267.7,752.6 280.3,770.7 293.9,793.2 305.6,772.5 318.3,767.6 332.7,766.1 338.1,782.4 347.2,811.3 357.1,853.8 370.7,874.5 380.0,875.4 383.3,874.5 390.0,879.0 398.1,881.8 410.7,889.0 423.4,862.8 436.0,858.3 448.7,847.4 454.1,836.6 463.1,815.8 475.8,795.9 488.4,790.5 501.0,818.5 514.6,842.9 527.2,825.8 539.0,844.7 553.4,857.4 566.1,863.7 570.0,863.7 580.0,863.7 591.7,858.6 604.3,869.5 617.9,857.4 629.6,860.4 642.3,857.4 654.9,863.3 669.4,869.5 682.0,845.6 694.7,852.9 710.0,839.3 720.0,841.7 734.4,853.8 746.2,838.4 750.7,831.2 757.9,798.7 760.0,795.9 770.0,771.6 773.5,764.3 787.1,779.1 798.8,756.2 812.4,749.0 822.3,756.2 832.3,767.0 844.9,779.7 852.1,788.7 863.9,830.3 875.6,801.4 889.2,773.4 902.7,758.5 915.4,755.3 928.0,766.1 942.5,780.6 950.0,783.8 955.7,787.2 960.0,787.5 968.1,788.2 980.7,813.1 993.4,845.6 1006.0,872.7 1019.6,884.5 1032.2,859.2 1044.9,855.6 1058.4,833.0 1072.0,818.5 1084.6,816.4 1097.8,793.2 1110.8,820.3 1124.3,839.3 1136.1,863.7 1140.0,860.4 1150.0,852.5 1161.7,826.1 1175.2,823.9 1188.8,811.3 1201.4,804.4 1214.1,765.2 1227.6,753.5 1240.3,757.1 1252.0,777.9 1264.7,816.7 1279.1,838.0 1292.7,822.1 1305.3,854.7 1318.0,870.6 1320.0,870.8 1324.5,869.7 1330.5,869.3 1336.8,873.1 1340.0,876.3 1344.7,878.9 1353.7,876.2 1362.7,875.3 1370.5,873.6 1376.1,861.8 1382.9,847.3 1389.6,842.2 1396.3,838.3 1403.1,846.1 1409.8,856.2 1413.2,843.9 1416.5,829.3 1421.0,814.1" fill="none" stroke="#ff00ff" stroke-width="1.3" stroke-linejoin="round"/>
<path d="M60.5,151.4 L68.2,157.9 V160.20000000000002 H63.6 V168.3 H57.4 V160.20000000000002 H52.8 V157.9 Z" fill="#ff0000"/>
<path d="M99.3,168 L107.0,174.5 V176.8 H102.39999999999999 V184.9 H96.2 V176.8 H91.6 V174.5 Z" fill="#ff0000"/>
<path d="M450.6,162 L458.3,168.5 V170.8 H453.70000000000005 V178.9 H447.5 V170.8 H442.90000000000003 V168.5 Z" fill="#ff0000"/>
<path d="M528.4,198 L536.1,204.5 V206.8 H531.5 V214.9 H525.3 V206.8 H520.6999999999999 V204.5 Z" fill="#ff0000"/>
<path d="M682.9,402.3 L690.6,408.8 V411.1 H686.0 V419.2 H679.8 V411.1 H675.1999999999999 V408.8 Z" fill="#ff0000"/>
<path d="M721.7,424.3 L729.4000000000001,430.8 V433.1 H724.8000000000001 V441.2 H718.6 V433.1 H714.0 V430.8 Z" fill="#ff0000"/>
<path d="M761.3,425.9 L769.0,432.4 V434.7 H764.4 V442.79999999999995 H758.1999999999999 V434.7 H753.5999999999999 V432.4 Z" fill="#ff0000"/>
<path d="M1034,473 L1041.7,479.5 V481.8 H1037.1 V489.9 H1030.9 V481.8 H1026.3 V479.5 Z" fill="#ff0000"/>
<path d="M1163.2,472.7 L1170.9,479.2 V481.5 H1166.3 V489.59999999999997 H1160.1000000000001 V481.5 H1155.5 V479.2 Z" fill="#ff0000"/>
<path d="M1332.4,481.4 L1340.1000000000001,487.9 V490.2 H1335.5 V498.29999999999995 H1329.3000000000002 V490.2 H1324.7 V487.9 Z" fill="#ff0000"/>
<path d="M278.5,47 H283.5 V55 H288 L281,62.5 L274,55 H278.5 Z" fill="none" stroke="#00e000" stroke-width="1.4"/>
<path d="M940.1,293 H945.1 V301 H949.6 L942.6,308.5 L935.6,301 H940.1 Z" fill="none" stroke="#00e000" stroke-width="1.4"/>
<path d="M343.8,42 V44.8 H339.6 L347.2,52.2 L354.6,44.8 H350.4 V42" fill="none" stroke="#00e000" stroke-width="1.4"/>
<path d="M198.6,16 L206.4,22.5 V24.8 H201.7 V32.9 H195.5 V24.8 H190.79999999999998 V22.5 Z" fill="#ff0000"/>
<path d="M1382.6,507.3 L1389.6,513.3 V515 H1385.6 V521 H1379.6 V515 H1375.6 V513.3 Z" fill="#ff0000"/>
<path d="M336,50 L319.6,45.6 M319.6,45.6 V42.8 M319.6,45.6 L322.6,50.4" stroke="#c8c8c8" stroke-width="1.3" fill="none"/>
<path d="M1391,512 H1419 M1419,512 l-8,-3 M1419,512 l-8,5" stroke="#c0c0c0" stroke-width="1.2" fill="none"/>
<path d="M1422.5,514.5 L1428.8,520.8 H1416.2 Z" fill="#ff0000"/>
<rect x="1393.5" y="39" width="4" height="3" fill="#ff00ff"/>
<rect x="1407.5" y="39" width="4" height="3" fill="#ff00ff"/>
<rect x="1419.5" y="39" width="4" height="3" fill="#ff00ff"/>
<path d="M1435.3,18.9 L1442.7,26.3 L1435.3,33.7 L1427.9,26.3 Z" fill="none" stroke="#a80000" stroke-width="1.7"/>
<rect x="1450.5" y="19" width="13.3" height="14.5" fill="none" stroke="#a80000" stroke-width="1.7"/>
<line x1="1459.3" y1="19" x2="1459.3" y2="33.5" stroke="#a80000" stroke-width="1.7"/>
<rect x="0" y="538.5" width="1468" height="2" fill="#b40000"/>
<rect x="0" y="714" width="1468" height="2" fill="#b40000"/>
<rect x="1467.2" y="11.5" width="1.8" height="880" fill="#b40000"/>
<rect x="1469" y="714" width="9" height="3" fill="#b40000"/>
<rect x="1469.2" y="716" width="1.6" height="175" fill="#b40000"/>
<rect x="1468" y="538.5" width="10" height="2" fill="#b40000"/>
<rect x="1468" y="691.5" width="10" height="1.3" fill="#b40000"/>
<path d="M1473,697 L1477,703 L1473,709" stroke="#c00000" stroke-width="1.2" fill="none"/>
<rect x="1468" y="60.4" width="9" height="1.3" fill="#b40000"/>
<rect x="1468" y="141.4" width="9" height="1.3" fill="#b40000"/>
<rect x="1468" y="222.4" width="9" height="1.3" fill="#b40000"/>
<rect x="1468" y="303.4" width="9" height="1.3" fill="#b40000"/>
<rect x="1468" y="384.4" width="9" height="1.3" fill="#b40000"/>
<rect x="1468" y="466.4" width="9" height="1.3" fill="#b40000"/>
<rect x="1468" y="100.9" width="4" height="1.3" fill="#b40000"/>
<rect x="1468" y="181.9" width="4" height="1.3" fill="#b40000"/>
<rect x="1468" y="262.9" width="4" height="1.3" fill="#b40000"/>
<rect x="1468" y="343.9" width="4" height="1.3" fill="#b40000"/>
<rect x="1468" y="425.4" width="4" height="1.3" fill="#b40000"/>
<rect x="1468" y="588.4" width="9" height="1.3" fill="#b40000"/>
<rect x="1468" y="650.0" width="9" height="1.3" fill="#b40000"/>
<rect x="1468" y="619.5" width="4" height="1.3" fill="#b40000"/>
<path d="M0,450 L8,458 L15,466 V512 L8,520 L0,530 Z" fill="#3a3a3a" stroke="#6a6a6a" stroke-width="1.2"/>
<path d="M2.5,481.5 L11,489 L2.5,496.5 Z" fill="#e8a000"/>
<text x='2.30' y='32.00' font-size='19.5' fill='#c0c0c0' font-family='"Liberation Sans","WenQuanYi Zen Hei","Noto Sans CJK SC",sans-serif' textLength='180.00' lengthAdjust='spacingAndGlyphs' stroke='#000' stroke-width='0.35'>上证指数(日线.前复权)</text>
<text x='210.80' y='31.60' font-size='18' fill='#e8e8e8' font-family='"Liberation Sans",Arial,sans-serif' textLength='108.20' lengthAdjust='spacingAndGlyphs' stroke='#000' stroke-width='0.35'>MA5: 2675.21</text>
<text x='329.60' y='31.60' font-size='18' fill='#ffff00' font-family='"Liberation Sans",Arial,sans-serif' textLength='120.60' lengthAdjust='spacingAndGlyphs' stroke='#000' stroke-width='0.35'>MA10: 2680.86</text>
<text x='458.50' y='31.60' font-size='18' fill='#ff00ff' font-family='"Liberation Sans",Arial,sans-serif' textLength='120.90' lengthAdjust='spacingAndGlyphs' stroke='#000' stroke-width='0.35'>MA20: 2711.99</text>
<text x='587.30' y='31.60' font-size='18' fill='#00e800' font-family='"Liberation Sans",Arial,sans-serif' textLength='131.70' lengthAdjust='spacingAndGlyphs' stroke='#000' stroke-width='0.35'>MA250: 3151.30</text>
<text x='340.40' y='58.40' font-size='18' fill='#c0c0c0' font-family='"Liberation Sans",Arial,sans-serif' textLength='66.10' lengthAdjust='spacingAndGlyphs' stroke='#000' stroke-width='0.35'>3219.74</text>
<text x='988.10' y='359.50' font-size='18' fill='#c0c0c0' font-family='"Liberation Sans",Arial,sans-serif' textLength='148.80' lengthAdjust='spacingAndGlyphs' stroke='#000' stroke-width='0.35'>2823.93 - 2815.34</text>
<text x='1325.10' y='520.80' font-size='18' fill='#c0c0c0' font-family='"Liberation Sans",Arial,sans-serif' textLength='66.90' lengthAdjust='spacingAndGlyphs' stroke='#000' stroke-width='0.35'>2644.30</text>
<text x='1.40' y='558.20' font-size='18' fill='#e8e8e8' font-family='"Liberation Sans",Arial,sans-serif' textLength='202.60' lengthAdjust='spacingAndGlyphs' stroke='#000' stroke-width='0.35'>VOLUME: 115767992.00</text>
<text x='212.00' y='558.20' font-size='18' fill='#e8e8e8' font-family='"Liberation Sans",Arial,sans-serif' textLength='163.00' lengthAdjust='spacingAndGlyphs' stroke='#000' stroke-width='0.35'>MA5: 100274736.00</text>
<text x='383.70' y='558.20' font-size='18' fill='#ffff00' font-family='"Liberation Sans",Arial,sans-serif' textLength='172.70' lengthAdjust='spacingAndGlyphs' stroke='#000' stroke-width='0.35'>MA10: 101634216.00</text>
<text x='2.00' y='733.80' font-size='18' fill='#e8e8e8' font-family='"Liberation Sans",Arial,sans-serif' textLength='86.00' lengthAdjust='spacingAndGlyphs' stroke='#000' stroke-width='0.35'>KDJ(9,3,3)</text>
<text x='96.80' y='733.80' font-size='18' fill='#e8e8e8' font-family='"Liberation Sans",Arial,sans-serif' textLength='67.20' lengthAdjust='spacingAndGlyphs' stroke='#000' stroke-width='0.35'>K: 33.73</text>
<text x='172.10' y='733.80' font-size='18' fill='#ffff00' font-family='"Liberation Sans",Arial,sans-serif' textLength='67.80' lengthAdjust='spacingAndGlyphs' stroke='#000' stroke-width='0.35'>D: 24.79</text>
<text x='247.00' y='733.80' font-size='18' fill='#ff00ff' font-family='"Liberation Sans",Arial,sans-serif' textLength='65.40' lengthAdjust='spacingAndGlyphs' stroke='#000' stroke-width='0.35'>J: 51.59</text>
</svg>
<div id="lb"></div>
</body></html>
